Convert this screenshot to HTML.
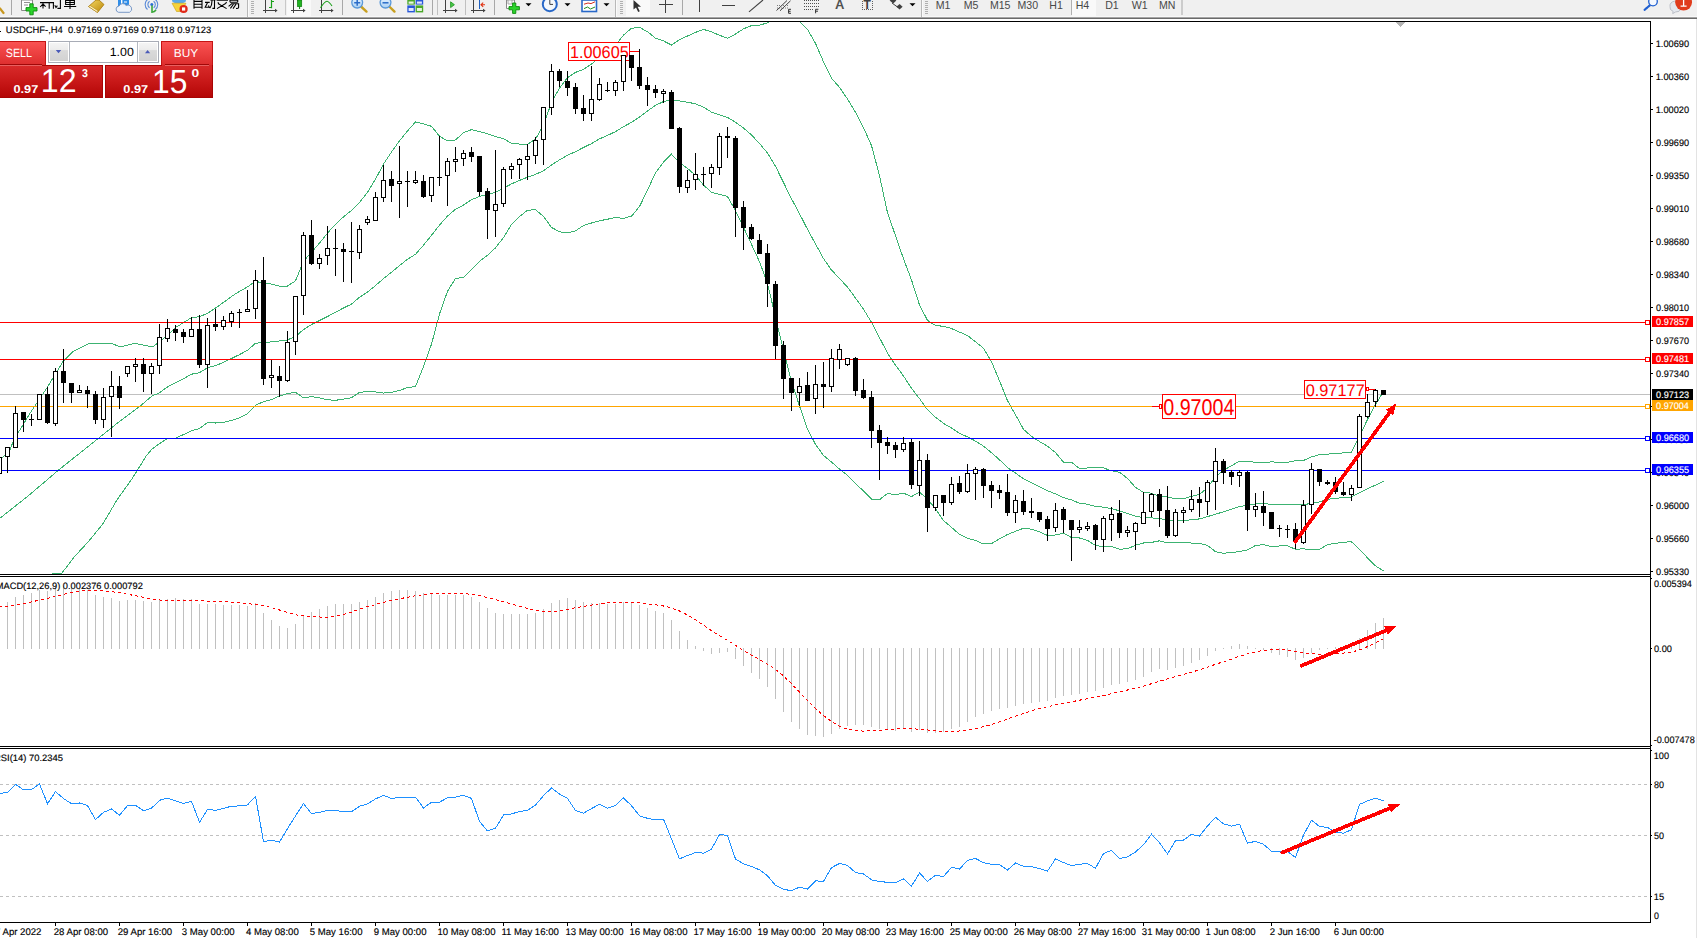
<!DOCTYPE html>
<html><head><meta charset="utf-8"><title>USDCHF H4</title>
<style>
html,body{margin:0;padding:0;background:#fff;overflow:hidden}
body{width:1697px;height:938px;position:relative;font-family:"Liberation Sans",sans-serif}
.t{position:absolute;white-space:nowrap;font-family:"Liberation Sans",sans-serif}
.a{position:absolute}
</style></head><body>
<svg width="1697" height="938" viewBox="0 0 1697 938" style="position:absolute;left:0;top:0" shape-rendering="crispEdges"><defs><clipPath id="cm"><rect x="0" y="22" width="1650" height="552"/></clipPath><clipPath id="cd"><rect x="0" y="577" width="1650" height="168"/></clipPath><clipPath id="cr"><rect x="0" y="749" width="1650" height="173"/></clipPath></defs>
<rect x="0" y="394" width="1650" height="1" fill="#c0c0c0"/>
<polyline points="-1.0,460.0 8.8,452.5 14.7,437.8 20.5,429.0 29.3,414.4 46.9,388.0 63.0,361.6 73.3,351.3 88.0,344.0 111.4,343.4 120.2,346.9 134.9,343.4 152.5,346.9 159.5,342.0 167.5,335.2 175.5,327.5 183.5,322.7 191.5,317.6 199.5,316.8 207.5,313.2 215.5,308.1 223.5,302.4 231.5,296.5 239.5,291.3 247.5,286.9 255.5,281.3 263.5,283.2 271.5,284.1 279.5,286.1 287.5,286.1 295.5,280.8 303.5,261.1 311.5,252.4 319.5,243.1 327.5,233.1 335.5,224.2 343.5,216.9 351.5,210.4 359.5,202.5 367.5,192.3 375.5,179.1 383.5,164.1 391.5,152.0 399.5,140.8 407.5,131.0 415.5,121.9 423.5,123.8 431.5,126.3 439.5,136.2 447.5,140.9 455.5,139.9 463.5,132.7 471.5,129.6 479.5,131.5 487.5,133.8 495.5,136.5 503.5,138.8 511.5,143.2 519.5,144.1 527.5,144.2 535.5,139.1 543.5,124.9 551.5,102.5 559.5,88.1 567.5,77.6 575.5,72.4 583.5,69.4 591.5,64.1 599.5,57.0 607.5,51.6 615.5,45.5 623.5,35.1 631.5,28.3 639.5,27.4 647.5,31.7 655.5,38.2 663.5,40.9 671.5,45.1 679.5,39.6 687.5,36.0 695.5,32.4 703.5,29.4 711.5,31.9 719.5,35.3 727.5,38.2 735.5,34.1 743.5,28.8 751.5,25.6 759.5,25.2 767.5,22.8 775.5,15.5 783.5,14.4 791.5,15.9 799.5,21.5 807.5,29.5 815.5,43.4 823.5,61.8 831.5,78.2 839.5,87.4 847.5,99.0 855.5,112.3 863.5,127.6 871.5,145.6 879.5,175.7 887.5,212.7 895.5,235.7 903.5,258.8 911.5,279.9 919.5,305.0 927.5,320.4 935.5,325.5 943.5,326.3 951.5,328.5 959.5,332.1 967.5,335.5 975.5,341.8 983.5,348.2 991.5,361.7 999.5,380.8 1007.5,400.7 1015.5,414.8 1023.5,429.3 1031.5,436.4 1039.5,441.5 1047.5,446.2 1055.5,452.6 1063.5,462.1 1071.5,462.3 1079.5,468.5 1087.5,468.0 1095.5,467.4 1103.5,467.9 1111.5,470.8 1119.5,472.3 1127.5,478.4 1135.5,487.4 1143.5,492.4 1151.5,493.2 1159.5,496.7 1167.5,496.8 1175.5,498.9 1183.5,498.7 1191.5,496.4 1199.5,494.4 1207.5,487.8 1215.5,476.6 1223.5,470.3 1231.5,465.8 1239.5,461.1 1247.5,461.2 1255.5,462.4 1263.5,462.4 1271.5,461.9 1279.5,462.3 1287.5,462.3 1295.5,460.8 1303.5,460.5 1311.5,456.9 1319.5,454.6 1327.5,454.1 1335.5,453.4 1343.5,452.9 1351.5,452.2 1359.5,435.8 1367.5,419.6 1375.5,404.5 1383.5,391.5" fill="none" stroke="#3cb371" stroke-width="1" clip-path="url(#cm)" shape-rendering="crispEdges"/>
<polyline points="-1.0,519.0 29.3,495.0 58.6,470.0 88.0,446.6 117.3,423.2 140.8,405.6 152.0,396.0 159.5,392.8 167.5,386.9 175.5,382.9 183.5,378.7 191.5,374.2 199.5,372.7 207.5,367.8 215.5,365.6 223.5,362.4 231.5,358.5 239.5,354.6 247.5,350.3 255.5,343.3 263.5,342.4 271.5,341.9 279.5,341.0 287.5,339.9 295.5,336.5 303.5,329.6 311.5,324.5 319.5,320.5 327.5,316.5 335.5,312.3 343.5,308.0 351.5,304.1 359.5,297.3 367.5,292.1 375.5,285.6 383.5,278.6 391.5,272.2 399.5,265.6 407.5,259.3 415.5,254.3 423.5,245.2 431.5,235.3 439.5,225.1 447.5,216.1 455.5,209.2 463.5,205.1 471.5,199.7 479.5,196.4 487.5,194.5 495.5,192.2 503.5,188.1 511.5,183.9 519.5,180.4 527.5,177.2 535.5,174.4 543.5,170.7 551.5,165.0 559.5,159.9 567.5,155.2 575.5,151.7 583.5,147.5 591.5,143.6 599.5,138.9 607.5,135.4 615.5,131.6 623.5,126.7 631.5,122.3 639.5,117.0 647.5,111.0 655.5,105.4 663.5,101.5 671.5,99.7 679.5,101.0 687.5,102.2 695.5,103.8 703.5,107.2 711.5,112.1 719.5,114.8 727.5,117.4 735.5,122.3 743.5,128.0 751.5,135.0 759.5,143.5 767.5,153.1 775.5,166.3 783.5,182.5 791.5,198.8 799.5,213.7 807.5,229.3 815.5,243.9 823.5,258.6 831.5,270.1 839.5,278.3 847.5,287.2 855.5,298.0 863.5,309.2 871.5,322.4 879.5,337.7 887.5,353.1 895.5,365.2 903.5,376.0 911.5,388.2 919.5,398.6 927.5,409.8 935.5,417.2 943.5,423.4 951.5,427.9 959.5,433.3 967.5,436.9 975.5,441.1 983.5,446.1 991.5,452.7 999.5,459.8 1007.5,467.6 1015.5,473.1 1023.5,478.7 1031.5,482.8 1039.5,486.7 1047.5,490.8 1055.5,493.8 1063.5,497.7 1071.5,499.9 1079.5,503.3 1087.5,504.2 1095.5,506.4 1103.5,507.2 1111.5,508.7 1119.5,510.8 1127.5,513.6 1135.5,516.3 1143.5,517.7 1151.5,517.8 1159.5,518.7 1167.5,519.9 1175.5,520.5 1183.5,520.4 1191.5,519.8 1199.5,518.9 1207.5,516.6 1215.5,514.2 1223.5,511.8 1231.5,509.1 1239.5,506.4 1247.5,505.6 1255.5,503.9 1263.5,503.6 1271.5,504.3 1279.5,504.1 1287.5,504.1 1295.5,505.0 1303.5,504.6 1311.5,503.4 1319.5,501.9 1327.5,499.3 1335.5,498.4 1343.5,497.6 1351.5,497.0 1359.5,492.7 1367.5,488.7 1375.5,485.1 1383.5,481.3" fill="none" stroke="#3cb371" stroke-width="1" clip-path="url(#cm)" shape-rendering="crispEdges"/>
<polyline points="47.0,574.5 62.0,573.0 73.3,558.0 88.0,542.0 102.6,524.3 117.3,499.4 132.0,478.9 146.6,455.4 152.0,449.0 159.5,443.6 167.5,438.6 175.5,438.2 183.5,434.6 191.5,430.7 199.5,428.6 207.5,422.4 215.5,423.0 223.5,422.4 231.5,420.4 239.5,417.8 247.5,413.7 255.5,405.3 263.5,401.6 271.5,399.7 279.5,395.9 287.5,393.6 295.5,392.2 303.5,398.0 311.5,396.5 319.5,397.9 327.5,399.8 335.5,400.3 343.5,399.1 351.5,397.8 359.5,392.2 367.5,391.8 375.5,392.0 383.5,393.1 391.5,392.3 399.5,390.5 407.5,387.5 415.5,386.6 423.5,366.6 431.5,344.2 439.5,314.0 447.5,291.2 455.5,278.5 463.5,277.4 471.5,269.7 479.5,261.3 487.5,255.2 495.5,247.9 503.5,237.5 511.5,224.5 519.5,216.6 527.5,210.2 535.5,209.7 543.5,216.5 551.5,227.4 559.5,231.8 567.5,232.9 575.5,230.9 583.5,225.5 591.5,223.0 599.5,220.8 607.5,219.2 615.5,217.6 623.5,218.3 631.5,216.2 639.5,206.5 647.5,190.3 655.5,172.7 663.5,162.2 671.5,154.2 679.5,162.4 687.5,168.4 695.5,175.3 703.5,185.1 711.5,192.3 719.5,194.3 727.5,196.5 735.5,210.6 743.5,227.3 751.5,244.4 759.5,261.7 767.5,283.5 775.5,317.1 783.5,350.6 791.5,381.6 799.5,406.0 807.5,429.1 815.5,444.3 823.5,455.5 831.5,462.0 839.5,469.1 847.5,475.3 855.5,483.8 863.5,490.8 871.5,499.1 879.5,499.7 887.5,493.4 895.5,494.7 903.5,493.1 911.5,496.6 919.5,492.1 927.5,499.2 935.5,508.9 943.5,520.5 951.5,527.4 959.5,534.4 967.5,538.3 975.5,540.5 983.5,543.9 991.5,543.6 999.5,538.9 1007.5,534.5 1015.5,531.3 1023.5,528.2 1031.5,529.2 1039.5,531.9 1047.5,535.5 1055.5,535.0 1063.5,533.2 1071.5,537.5 1079.5,538.0 1087.5,540.4 1095.5,545.5 1103.5,546.6 1111.5,546.6 1119.5,549.2 1127.5,548.8 1135.5,545.2 1143.5,543.0 1151.5,542.4 1159.5,540.8 1167.5,543.0 1175.5,542.1 1183.5,542.1 1191.5,543.1 1199.5,543.4 1207.5,545.4 1215.5,551.7 1223.5,553.3 1231.5,552.5 1239.5,551.6 1247.5,549.9 1255.5,545.4 1263.5,544.7 1271.5,546.7 1279.5,546.0 1287.5,545.8 1295.5,549.3 1303.5,548.8 1311.5,550.0 1319.5,549.3 1327.5,544.6 1335.5,543.3 1343.5,542.2 1351.5,541.8 1359.5,549.5 1367.5,557.8 1375.5,565.8 1383.5,571.0" fill="none" stroke="#3cb371" stroke-width="1" clip-path="url(#cm)" shape-rendering="crispEdges"/>
<rect x="0" y="322" width="1650" height="1" fill="#ff0000"/>
<rect x="1645.5" y="320.5" width="4" height="4" fill="#fff" stroke="#ff0000" stroke-width="1"/>
<rect x="0" y="359" width="1650" height="1" fill="#ff0000"/>
<rect x="1645.5" y="357.5" width="4" height="4" fill="#fff" stroke="#ff0000" stroke-width="1"/>
<rect x="0" y="406" width="1650" height="1" fill="#ffa500"/>
<rect x="1645.5" y="404.5" width="4" height="4" fill="#fff" stroke="#ffa500" stroke-width="1"/>
<rect x="0" y="438" width="1650" height="1" fill="#0000ff"/>
<rect x="1645.5" y="436.5" width="4" height="4" fill="#fff" stroke="#0000ff" stroke-width="1"/>
<rect x="0" y="470" width="1650" height="1" fill="#0000ff"/>
<rect x="1645.5" y="468.5" width="4" height="4" fill="#fff" stroke="#0000ff" stroke-width="1"/>
<rect x="568.5" y="42.5" width="61" height="18" fill="#fff" stroke="#ff0000" stroke-width="1" shape-rendering="crispEdges"/>
<rect x="630" y="51" width="9" height="1" fill="#f00"/>
<text x="569.98" y="57.93" font-family="Liberation Sans, sans-serif" font-size="17.18" textLength="58.77" lengthAdjust="spacingAndGlyphs" text-rendering="geometricPrecision" fill="#ff0000">1.00605</text>
<rect x="1304.5" y="380.5" width="61" height="18" fill="#fff" stroke="#ff0000" stroke-width="1" shape-rendering="crispEdges"/>
<rect x="1366.5" y="387.5" width="2" height="3" fill="#fff" stroke="#f00"/><rect x="1369" y="389" width="7" height="1" fill="#f00"/>
<text x="1305.63" y="395.83" font-family="Liberation Sans, sans-serif" font-size="16.90" textLength="59.11" lengthAdjust="spacingAndGlyphs" text-rendering="geometricPrecision" fill="#ff0000">0.97177</text>
<rect x="1162.5" y="394.5" width="73" height="24" fill="#fff" stroke="#ff0000" stroke-width="1" shape-rendering="crispEdges"/>
<rect x="1152" y="406" width="7" height="1" fill="#f00"/><rect x="1159.5" y="404.5" width="2" height="4" fill="#fff" stroke="#f00"/>
<text x="1163.21" y="414.87" font-family="Liberation Sans, sans-serif" font-size="22.82" textLength="71.28" lengthAdjust="spacingAndGlyphs" text-rendering="geometricPrecision" fill="#ff0000">0.97004</text>
<rect x="-1" y="455" width="1" height="21" fill="#000"/>
<rect x="-3" y="457" width="5" height="17" fill="#000"/>
<rect x="-2" y="458" width="3" height="15" fill="#fff"/>
<rect x="7" y="447" width="1" height="26" fill="#000"/>
<rect x="5" y="447" width="5" height="10" fill="#000"/>
<rect x="6" y="448" width="3" height="8" fill="#fff"/>
<rect x="15" y="406" width="1" height="42" fill="#000"/>
<rect x="13" y="413" width="5" height="35" fill="#000"/>
<rect x="14" y="414" width="3" height="33" fill="#fff"/>
<rect x="23" y="412" width="1" height="20" fill="#000"/>
<rect x="21" y="412" width="5" height="8" fill="#000"/>
<rect x="31" y="414" width="1" height="12" fill="#000"/>
<rect x="29" y="419" width="5" height="1" fill="#000"/>
<rect x="39" y="394" width="1" height="26" fill="#000"/>
<rect x="37" y="394" width="5" height="26" fill="#000"/>
<rect x="38" y="395" width="3" height="24" fill="#fff"/>
<rect x="47" y="387" width="1" height="37" fill="#000"/>
<rect x="45" y="394" width="5" height="29" fill="#000"/>
<rect x="55" y="368" width="1" height="58" fill="#000"/>
<rect x="53" y="371" width="5" height="53" fill="#000"/>
<rect x="54" y="372" width="3" height="51" fill="#fff"/>
<rect x="63" y="349" width="1" height="54" fill="#000"/>
<rect x="61" y="371" width="5" height="12" fill="#000"/>
<rect x="71" y="383" width="1" height="20" fill="#000"/>
<rect x="69" y="383" width="5" height="10" fill="#000"/>
<rect x="79" y="385" width="1" height="8" fill="#000"/>
<rect x="77" y="390" width="5" height="3" fill="#000"/>
<rect x="78" y="391" width="3" height="1" fill="#fff"/>
<rect x="87" y="386" width="1" height="22" fill="#000"/>
<rect x="85" y="390" width="5" height="4" fill="#000"/>
<rect x="95" y="391" width="1" height="33" fill="#000"/>
<rect x="93" y="394" width="5" height="26" fill="#000"/>
<rect x="103" y="388" width="1" height="40" fill="#000"/>
<rect x="101" y="397" width="5" height="23" fill="#000"/>
<rect x="102" y="398" width="3" height="21" fill="#fff"/>
<rect x="111" y="371" width="1" height="66" fill="#000"/>
<rect x="109" y="386" width="5" height="11" fill="#000"/>
<rect x="110" y="387" width="3" height="9" fill="#fff"/>
<rect x="119" y="376" width="1" height="33" fill="#000"/>
<rect x="117" y="386" width="5" height="12" fill="#000"/>
<rect x="127" y="366" width="1" height="11" fill="#000"/>
<rect x="125" y="366" width="5" height="8" fill="#000"/>
<rect x="126" y="367" width="3" height="6" fill="#fff"/>
<rect x="135" y="358" width="1" height="24" fill="#000"/>
<rect x="133" y="364" width="5" height="3" fill="#000"/>
<rect x="134" y="365" width="3" height="1" fill="#fff"/>
<rect x="143" y="358" width="1" height="34" fill="#000"/>
<rect x="141" y="364" width="5" height="10" fill="#000"/>
<rect x="151" y="363" width="1" height="31" fill="#000"/>
<rect x="149" y="366" width="5" height="8" fill="#000"/>
<rect x="150" y="367" width="3" height="6" fill="#fff"/>
<rect x="159" y="324" width="1" height="50" fill="#000"/>
<rect x="157" y="337" width="5" height="29" fill="#000"/>
<rect x="158" y="338" width="3" height="27" fill="#fff"/>
<rect x="167" y="319" width="1" height="23" fill="#000"/>
<rect x="165" y="328" width="5" height="11" fill="#000"/>
<rect x="166" y="329" width="3" height="9" fill="#fff"/>
<rect x="175" y="325" width="1" height="16" fill="#000"/>
<rect x="173" y="329" width="5" height="4" fill="#000"/>
<rect x="183" y="329" width="1" height="14" fill="#000"/>
<rect x="181" y="332" width="5" height="5" fill="#000"/>
<rect x="191" y="317" width="1" height="20" fill="#000"/>
<rect x="189" y="329" width="5" height="8" fill="#000"/>
<rect x="190" y="330" width="3" height="6" fill="#fff"/>
<rect x="199" y="315" width="1" height="53" fill="#000"/>
<rect x="197" y="329" width="5" height="36" fill="#000"/>
<rect x="207" y="318" width="1" height="70" fill="#000"/>
<rect x="205" y="325" width="5" height="40" fill="#000"/>
<rect x="206" y="326" width="3" height="38" fill="#fff"/>
<rect x="215" y="309" width="1" height="22" fill="#000"/>
<rect x="213" y="324" width="5" height="3" fill="#000"/>
<rect x="223" y="316" width="1" height="14" fill="#000"/>
<rect x="221" y="320" width="5" height="7" fill="#000"/>
<rect x="222" y="321" width="3" height="5" fill="#fff"/>
<rect x="231" y="311" width="1" height="16" fill="#000"/>
<rect x="229" y="313" width="5" height="9" fill="#000"/>
<rect x="230" y="314" width="3" height="7" fill="#fff"/>
<rect x="239" y="309" width="1" height="19" fill="#000"/>
<rect x="237" y="312" width="5" height="1" fill="#000"/>
<rect x="247" y="290" width="1" height="22" fill="#000"/>
<rect x="245" y="309" width="5" height="3" fill="#000"/>
<rect x="246" y="310" width="3" height="1" fill="#fff"/>
<rect x="255" y="270" width="1" height="49" fill="#000"/>
<rect x="253" y="280" width="5" height="29" fill="#000"/>
<rect x="254" y="281" width="3" height="27" fill="#fff"/>
<rect x="263" y="257" width="1" height="128" fill="#000"/>
<rect x="261" y="280" width="5" height="99" fill="#000"/>
<rect x="271" y="360" width="1" height="28" fill="#000"/>
<rect x="269" y="375" width="5" height="3" fill="#000"/>
<rect x="270" y="376" width="3" height="1" fill="#fff"/>
<rect x="279" y="366" width="1" height="31" fill="#000"/>
<rect x="277" y="376" width="5" height="5" fill="#000"/>
<rect x="287" y="331" width="1" height="51" fill="#000"/>
<rect x="285" y="342" width="5" height="39" fill="#000"/>
<rect x="286" y="343" width="3" height="37" fill="#fff"/>
<rect x="295" y="296" width="1" height="59" fill="#000"/>
<rect x="293" y="296" width="5" height="46" fill="#000"/>
<rect x="294" y="297" width="3" height="44" fill="#fff"/>
<rect x="303" y="232" width="1" height="83" fill="#000"/>
<rect x="301" y="235" width="5" height="61" fill="#000"/>
<rect x="302" y="236" width="3" height="59" fill="#fff"/>
<rect x="311" y="220" width="1" height="45" fill="#000"/>
<rect x="309" y="235" width="5" height="29" fill="#000"/>
<rect x="319" y="254" width="1" height="15" fill="#000"/>
<rect x="317" y="258" width="5" height="6" fill="#000"/>
<rect x="318" y="259" width="3" height="4" fill="#fff"/>
<rect x="327" y="226" width="1" height="39" fill="#000"/>
<rect x="325" y="248" width="5" height="8" fill="#000"/>
<rect x="326" y="249" width="3" height="6" fill="#fff"/>
<rect x="335" y="229" width="1" height="47" fill="#000"/>
<rect x="333" y="248" width="5" height="1" fill="#000"/>
<rect x="343" y="243" width="1" height="39" fill="#000"/>
<rect x="341" y="249" width="5" height="3" fill="#000"/>
<rect x="351" y="222" width="1" height="61" fill="#000"/>
<rect x="349" y="251" width="5" height="1" fill="#000"/>
<rect x="359" y="225" width="1" height="34" fill="#000"/>
<rect x="357" y="229" width="5" height="24" fill="#000"/>
<rect x="358" y="230" width="3" height="22" fill="#fff"/>
<rect x="367" y="216" width="1" height="9" fill="#000"/>
<rect x="365" y="219" width="5" height="4" fill="#000"/>
<rect x="366" y="220" width="3" height="2" fill="#fff"/>
<rect x="375" y="192" width="1" height="29" fill="#000"/>
<rect x="373" y="197" width="5" height="24" fill="#000"/>
<rect x="374" y="198" width="3" height="22" fill="#fff"/>
<rect x="383" y="165" width="1" height="37" fill="#000"/>
<rect x="381" y="180" width="5" height="18" fill="#000"/>
<rect x="382" y="181" width="3" height="16" fill="#fff"/>
<rect x="391" y="171" width="1" height="31" fill="#000"/>
<rect x="389" y="179" width="5" height="7" fill="#000"/>
<rect x="399" y="146" width="1" height="72" fill="#000"/>
<rect x="397" y="181" width="5" height="3" fill="#000"/>
<rect x="398" y="182" width="3" height="1" fill="#fff"/>
<rect x="407" y="171" width="1" height="36" fill="#000"/>
<rect x="405" y="181" width="5" height="1" fill="#000"/>
<rect x="415" y="171" width="1" height="13" fill="#000"/>
<rect x="413" y="180" width="5" height="3" fill="#000"/>
<rect x="414" y="181" width="3" height="1" fill="#fff"/>
<rect x="423" y="175" width="1" height="23" fill="#000"/>
<rect x="421" y="181" width="5" height="16" fill="#000"/>
<rect x="431" y="177" width="1" height="25" fill="#000"/>
<rect x="429" y="177" width="5" height="19" fill="#000"/>
<rect x="430" y="178" width="3" height="17" fill="#fff"/>
<rect x="439" y="136" width="1" height="50" fill="#000"/>
<rect x="437" y="177" width="5" height="1" fill="#000"/>
<rect x="447" y="158" width="1" height="48" fill="#000"/>
<rect x="445" y="161" width="5" height="15" fill="#000"/>
<rect x="446" y="162" width="3" height="13" fill="#fff"/>
<rect x="455" y="147" width="1" height="25" fill="#000"/>
<rect x="453" y="159" width="5" height="3" fill="#000"/>
<rect x="454" y="160" width="3" height="1" fill="#fff"/>
<rect x="463" y="150" width="1" height="16" fill="#000"/>
<rect x="461" y="153" width="5" height="6" fill="#000"/>
<rect x="462" y="154" width="3" height="4" fill="#fff"/>
<rect x="471" y="147" width="1" height="15" fill="#000"/>
<rect x="469" y="152" width="5" height="5" fill="#000"/>
<rect x="479" y="156" width="1" height="40" fill="#000"/>
<rect x="477" y="156" width="5" height="36" fill="#000"/>
<rect x="487" y="188" width="1" height="51" fill="#000"/>
<rect x="485" y="191" width="5" height="19" fill="#000"/>
<rect x="495" y="150" width="1" height="87" fill="#000"/>
<rect x="493" y="204" width="5" height="7" fill="#000"/>
<rect x="494" y="205" width="3" height="5" fill="#fff"/>
<rect x="503" y="167" width="1" height="40" fill="#000"/>
<rect x="501" y="169" width="5" height="35" fill="#000"/>
<rect x="502" y="170" width="3" height="33" fill="#fff"/>
<rect x="511" y="163" width="1" height="16" fill="#000"/>
<rect x="509" y="166" width="5" height="4" fill="#000"/>
<rect x="510" y="167" width="3" height="2" fill="#fff"/>
<rect x="519" y="158" width="1" height="21" fill="#000"/>
<rect x="517" y="159" width="5" height="6" fill="#000"/>
<rect x="518" y="160" width="3" height="4" fill="#fff"/>
<rect x="527" y="144" width="1" height="36" fill="#000"/>
<rect x="525" y="156" width="5" height="4" fill="#000"/>
<rect x="526" y="157" width="3" height="2" fill="#fff"/>
<rect x="535" y="137" width="1" height="27" fill="#000"/>
<rect x="533" y="140" width="5" height="16" fill="#000"/>
<rect x="534" y="141" width="3" height="14" fill="#fff"/>
<rect x="543" y="107" width="1" height="58" fill="#000"/>
<rect x="541" y="107" width="5" height="33" fill="#000"/>
<rect x="542" y="108" width="3" height="31" fill="#fff"/>
<rect x="551" y="64" width="1" height="51" fill="#000"/>
<rect x="549" y="71" width="5" height="37" fill="#000"/>
<rect x="550" y="72" width="3" height="35" fill="#fff"/>
<rect x="559" y="69" width="1" height="18" fill="#000"/>
<rect x="557" y="71" width="5" height="10" fill="#000"/>
<rect x="567" y="71" width="1" height="25" fill="#000"/>
<rect x="565" y="81" width="5" height="7" fill="#000"/>
<rect x="575" y="83" width="1" height="31" fill="#000"/>
<rect x="573" y="87" width="5" height="22" fill="#000"/>
<rect x="583" y="95" width="1" height="26" fill="#000"/>
<rect x="581" y="108" width="5" height="6" fill="#000"/>
<rect x="591" y="66" width="1" height="55" fill="#000"/>
<rect x="589" y="99" width="5" height="15" fill="#000"/>
<rect x="590" y="100" width="3" height="13" fill="#fff"/>
<rect x="599" y="78" width="1" height="23" fill="#000"/>
<rect x="597" y="84" width="5" height="16" fill="#000"/>
<rect x="598" y="85" width="3" height="14" fill="#fff"/>
<rect x="607" y="82" width="1" height="10" fill="#000"/>
<rect x="605" y="90" width="5" height="1" fill="#000"/>
<rect x="615" y="80" width="1" height="16" fill="#000"/>
<rect x="613" y="82" width="5" height="9" fill="#000"/>
<rect x="614" y="83" width="3" height="7" fill="#fff"/>
<rect x="623" y="55" width="1" height="36" fill="#000"/>
<rect x="621" y="55" width="5" height="27" fill="#000"/>
<rect x="622" y="56" width="3" height="25" fill="#fff"/>
<rect x="631" y="55" width="1" height="26" fill="#000"/>
<rect x="629" y="55" width="5" height="13" fill="#000"/>
<rect x="639" y="49" width="1" height="40" fill="#000"/>
<rect x="637" y="67" width="5" height="19" fill="#000"/>
<rect x="647" y="77" width="1" height="29" fill="#000"/>
<rect x="645" y="85" width="5" height="5" fill="#000"/>
<rect x="655" y="85" width="1" height="13" fill="#000"/>
<rect x="653" y="89" width="5" height="4" fill="#000"/>
<rect x="663" y="89" width="1" height="14" fill="#000"/>
<rect x="661" y="91" width="5" height="3" fill="#000"/>
<rect x="662" y="92" width="3" height="1" fill="#fff"/>
<rect x="671" y="90" width="1" height="39" fill="#000"/>
<rect x="669" y="92" width="5" height="37" fill="#000"/>
<rect x="679" y="127" width="1" height="66" fill="#000"/>
<rect x="677" y="128" width="5" height="59" fill="#000"/>
<rect x="687" y="170" width="1" height="23" fill="#000"/>
<rect x="685" y="180" width="5" height="8" fill="#000"/>
<rect x="686" y="181" width="3" height="6" fill="#fff"/>
<rect x="695" y="153" width="1" height="37" fill="#000"/>
<rect x="693" y="174" width="5" height="6" fill="#000"/>
<rect x="694" y="175" width="3" height="4" fill="#fff"/>
<rect x="703" y="167" width="1" height="19" fill="#000"/>
<rect x="701" y="174" width="5" height="1" fill="#000"/>
<rect x="711" y="164" width="1" height="24" fill="#000"/>
<rect x="709" y="167" width="5" height="7" fill="#000"/>
<rect x="710" y="168" width="3" height="5" fill="#fff"/>
<rect x="719" y="133" width="1" height="42" fill="#000"/>
<rect x="717" y="136" width="5" height="32" fill="#000"/>
<rect x="718" y="137" width="3" height="30" fill="#fff"/>
<rect x="727" y="127" width="1" height="31" fill="#000"/>
<rect x="725" y="136" width="5" height="2" fill="#000"/>
<rect x="735" y="136" width="1" height="101" fill="#000"/>
<rect x="733" y="138" width="5" height="70" fill="#000"/>
<rect x="743" y="201" width="1" height="49" fill="#000"/>
<rect x="741" y="207" width="5" height="21" fill="#000"/>
<rect x="751" y="224" width="1" height="16" fill="#000"/>
<rect x="749" y="227" width="5" height="12" fill="#000"/>
<rect x="759" y="234" width="1" height="20" fill="#000"/>
<rect x="757" y="240" width="5" height="14" fill="#000"/>
<rect x="767" y="244" width="1" height="63" fill="#000"/>
<rect x="765" y="253" width="5" height="31" fill="#000"/>
<rect x="775" y="281" width="1" height="78" fill="#000"/>
<rect x="773" y="284" width="5" height="62" fill="#000"/>
<rect x="783" y="341" width="1" height="58" fill="#000"/>
<rect x="781" y="345" width="5" height="34" fill="#000"/>
<rect x="791" y="378" width="1" height="33" fill="#000"/>
<rect x="789" y="378" width="5" height="15" fill="#000"/>
<rect x="799" y="378" width="1" height="28" fill="#000"/>
<rect x="797" y="386" width="5" height="7" fill="#000"/>
<rect x="798" y="387" width="3" height="5" fill="#fff"/>
<rect x="807" y="372" width="1" height="29" fill="#000"/>
<rect x="805" y="385" width="5" height="16" fill="#000"/>
<rect x="815" y="365" width="1" height="49" fill="#000"/>
<rect x="813" y="384" width="5" height="15" fill="#000"/>
<rect x="814" y="385" width="3" height="13" fill="#fff"/>
<rect x="823" y="362" width="1" height="46" fill="#000"/>
<rect x="821" y="384" width="5" height="3" fill="#000"/>
<rect x="831" y="349" width="1" height="43" fill="#000"/>
<rect x="829" y="358" width="5" height="29" fill="#000"/>
<rect x="830" y="359" width="3" height="27" fill="#fff"/>
<rect x="839" y="344" width="1" height="25" fill="#000"/>
<rect x="837" y="349" width="5" height="11" fill="#000"/>
<rect x="838" y="350" width="3" height="9" fill="#fff"/>
<rect x="847" y="358" width="1" height="8" fill="#000"/>
<rect x="845" y="358" width="5" height="7" fill="#000"/>
<rect x="846" y="359" width="3" height="5" fill="#fff"/>
<rect x="855" y="357" width="1" height="39" fill="#000"/>
<rect x="853" y="358" width="5" height="33" fill="#000"/>
<rect x="863" y="379" width="1" height="20" fill="#000"/>
<rect x="861" y="390" width="5" height="8" fill="#000"/>
<rect x="871" y="391" width="1" height="57" fill="#000"/>
<rect x="869" y="397" width="5" height="34" fill="#000"/>
<rect x="879" y="425" width="1" height="55" fill="#000"/>
<rect x="877" y="430" width="5" height="13" fill="#000"/>
<rect x="887" y="437" width="1" height="17" fill="#000"/>
<rect x="885" y="442" width="5" height="4" fill="#000"/>
<rect x="895" y="442" width="1" height="16" fill="#000"/>
<rect x="893" y="445" width="5" height="5" fill="#000"/>
<rect x="903" y="437" width="1" height="15" fill="#000"/>
<rect x="901" y="443" width="5" height="7" fill="#000"/>
<rect x="902" y="444" width="3" height="5" fill="#fff"/>
<rect x="911" y="439" width="1" height="50" fill="#000"/>
<rect x="909" y="442" width="5" height="43" fill="#000"/>
<rect x="919" y="441" width="1" height="55" fill="#000"/>
<rect x="917" y="460" width="5" height="26" fill="#000"/>
<rect x="918" y="461" width="3" height="24" fill="#fff"/>
<rect x="927" y="454" width="1" height="78" fill="#000"/>
<rect x="925" y="460" width="5" height="48" fill="#000"/>
<rect x="935" y="495" width="1" height="16" fill="#000"/>
<rect x="933" y="495" width="5" height="13" fill="#000"/>
<rect x="934" y="496" width="3" height="11" fill="#fff"/>
<rect x="943" y="495" width="1" height="21" fill="#000"/>
<rect x="941" y="495" width="5" height="8" fill="#000"/>
<rect x="951" y="477" width="1" height="28" fill="#000"/>
<rect x="949" y="484" width="5" height="19" fill="#000"/>
<rect x="950" y="485" width="3" height="17" fill="#fff"/>
<rect x="959" y="476" width="1" height="18" fill="#000"/>
<rect x="957" y="483" width="5" height="9" fill="#000"/>
<rect x="967" y="464" width="1" height="29" fill="#000"/>
<rect x="965" y="473" width="5" height="19" fill="#000"/>
<rect x="966" y="474" width="3" height="17" fill="#fff"/>
<rect x="975" y="467" width="1" height="33" fill="#000"/>
<rect x="973" y="469" width="5" height="5" fill="#000"/>
<rect x="974" y="470" width="3" height="3" fill="#fff"/>
<rect x="983" y="468" width="1" height="30" fill="#000"/>
<rect x="981" y="469" width="5" height="17" fill="#000"/>
<rect x="991" y="481" width="1" height="27" fill="#000"/>
<rect x="989" y="485" width="5" height="6" fill="#000"/>
<rect x="999" y="485" width="1" height="14" fill="#000"/>
<rect x="997" y="490" width="5" height="3" fill="#000"/>
<rect x="1007" y="474" width="1" height="42" fill="#000"/>
<rect x="1005" y="492" width="5" height="21" fill="#000"/>
<rect x="1015" y="495" width="1" height="28" fill="#000"/>
<rect x="1013" y="500" width="5" height="13" fill="#000"/>
<rect x="1014" y="501" width="3" height="11" fill="#fff"/>
<rect x="1023" y="490" width="1" height="25" fill="#000"/>
<rect x="1021" y="501" width="5" height="11" fill="#000"/>
<rect x="1031" y="498" width="1" height="20" fill="#000"/>
<rect x="1029" y="511" width="5" height="2" fill="#000"/>
<rect x="1039" y="512" width="1" height="10" fill="#000"/>
<rect x="1037" y="512" width="5" height="8" fill="#000"/>
<rect x="1047" y="516" width="1" height="25" fill="#000"/>
<rect x="1045" y="519" width="5" height="10" fill="#000"/>
<rect x="1055" y="503" width="1" height="29" fill="#000"/>
<rect x="1053" y="510" width="5" height="18" fill="#000"/>
<rect x="1054" y="511" width="3" height="16" fill="#fff"/>
<rect x="1063" y="507" width="1" height="26" fill="#000"/>
<rect x="1061" y="509" width="5" height="11" fill="#000"/>
<rect x="1071" y="520" width="1" height="41" fill="#000"/>
<rect x="1069" y="520" width="5" height="10" fill="#000"/>
<rect x="1079" y="520" width="1" height="13" fill="#000"/>
<rect x="1077" y="527" width="5" height="3" fill="#000"/>
<rect x="1078" y="528" width="3" height="1" fill="#fff"/>
<rect x="1087" y="522" width="1" height="9" fill="#000"/>
<rect x="1085" y="526" width="5" height="3" fill="#000"/>
<rect x="1086" y="527" width="3" height="1" fill="#fff"/>
<rect x="1095" y="524" width="1" height="26" fill="#000"/>
<rect x="1093" y="525" width="5" height="15" fill="#000"/>
<rect x="1103" y="516" width="1" height="36" fill="#000"/>
<rect x="1101" y="518" width="5" height="22" fill="#000"/>
<rect x="1102" y="519" width="3" height="20" fill="#fff"/>
<rect x="1111" y="507" width="1" height="34" fill="#000"/>
<rect x="1109" y="514" width="5" height="6" fill="#000"/>
<rect x="1110" y="515" width="3" height="4" fill="#fff"/>
<rect x="1119" y="500" width="1" height="38" fill="#000"/>
<rect x="1117" y="513" width="5" height="20" fill="#000"/>
<rect x="1127" y="526" width="1" height="11" fill="#000"/>
<rect x="1125" y="530" width="5" height="3" fill="#000"/>
<rect x="1126" y="531" width="3" height="1" fill="#fff"/>
<rect x="1135" y="522" width="1" height="28" fill="#000"/>
<rect x="1133" y="523" width="5" height="9" fill="#000"/>
<rect x="1134" y="524" width="3" height="7" fill="#fff"/>
<rect x="1143" y="492" width="1" height="32" fill="#000"/>
<rect x="1141" y="512" width="5" height="12" fill="#000"/>
<rect x="1142" y="513" width="3" height="10" fill="#fff"/>
<rect x="1151" y="493" width="1" height="24" fill="#000"/>
<rect x="1149" y="494" width="5" height="18" fill="#000"/>
<rect x="1150" y="495" width="3" height="16" fill="#fff"/>
<rect x="1159" y="489" width="1" height="38" fill="#000"/>
<rect x="1157" y="494" width="5" height="17" fill="#000"/>
<rect x="1167" y="486" width="1" height="52" fill="#000"/>
<rect x="1165" y="510" width="5" height="26" fill="#000"/>
<rect x="1175" y="509" width="1" height="28" fill="#000"/>
<rect x="1173" y="512" width="5" height="24" fill="#000"/>
<rect x="1174" y="513" width="3" height="22" fill="#fff"/>
<rect x="1183" y="507" width="1" height="16" fill="#000"/>
<rect x="1181" y="510" width="5" height="3" fill="#000"/>
<rect x="1182" y="511" width="3" height="1" fill="#fff"/>
<rect x="1191" y="490" width="1" height="22" fill="#000"/>
<rect x="1189" y="499" width="5" height="11" fill="#000"/>
<rect x="1190" y="500" width="3" height="9" fill="#fff"/>
<rect x="1199" y="487" width="1" height="30" fill="#000"/>
<rect x="1197" y="499" width="5" height="4" fill="#000"/>
<rect x="1207" y="480" width="1" height="35" fill="#000"/>
<rect x="1205" y="482" width="5" height="20" fill="#000"/>
<rect x="1206" y="483" width="3" height="18" fill="#fff"/>
<rect x="1215" y="448" width="1" height="62" fill="#000"/>
<rect x="1213" y="461" width="5" height="21" fill="#000"/>
<rect x="1214" y="462" width="3" height="19" fill="#fff"/>
<rect x="1223" y="459" width="1" height="25" fill="#000"/>
<rect x="1221" y="461" width="5" height="12" fill="#000"/>
<rect x="1231" y="470" width="1" height="15" fill="#000"/>
<rect x="1229" y="472" width="5" height="5" fill="#000"/>
<rect x="1239" y="470" width="1" height="17" fill="#000"/>
<rect x="1237" y="472" width="5" height="4" fill="#000"/>
<rect x="1238" y="473" width="3" height="2" fill="#fff"/>
<rect x="1247" y="471" width="1" height="60" fill="#000"/>
<rect x="1245" y="472" width="5" height="38" fill="#000"/>
<rect x="1255" y="493" width="1" height="24" fill="#000"/>
<rect x="1253" y="506" width="5" height="4" fill="#000"/>
<rect x="1254" y="507" width="3" height="2" fill="#fff"/>
<rect x="1263" y="491" width="1" height="35" fill="#000"/>
<rect x="1261" y="506" width="5" height="7" fill="#000"/>
<rect x="1271" y="512" width="1" height="17" fill="#000"/>
<rect x="1269" y="512" width="5" height="17" fill="#000"/>
<rect x="1279" y="525" width="1" height="12" fill="#000"/>
<rect x="1277" y="528" width="5" height="1" fill="#000"/>
<rect x="1287" y="525" width="1" height="13" fill="#000"/>
<rect x="1285" y="529" width="5" height="1" fill="#000"/>
<rect x="1295" y="523" width="1" height="26" fill="#000"/>
<rect x="1293" y="529" width="5" height="13" fill="#000"/>
<rect x="1303" y="500" width="1" height="44" fill="#000"/>
<rect x="1301" y="505" width="5" height="38" fill="#000"/>
<rect x="1302" y="506" width="3" height="36" fill="#fff"/>
<rect x="1311" y="463" width="1" height="51" fill="#000"/>
<rect x="1309" y="469" width="5" height="36" fill="#000"/>
<rect x="1310" y="470" width="3" height="34" fill="#fff"/>
<rect x="1319" y="469" width="1" height="17" fill="#000"/>
<rect x="1317" y="469" width="5" height="13" fill="#000"/>
<rect x="1327" y="480" width="1" height="5" fill="#000"/>
<rect x="1325" y="482" width="5" height="2" fill="#000"/>
<rect x="1335" y="477" width="1" height="17" fill="#000"/>
<rect x="1333" y="482" width="5" height="10" fill="#000"/>
<rect x="1343" y="482" width="1" height="14" fill="#000"/>
<rect x="1341" y="492" width="5" height="3" fill="#000"/>
<rect x="1351" y="485" width="1" height="16" fill="#000"/>
<rect x="1349" y="488" width="5" height="7" fill="#000"/>
<rect x="1350" y="489" width="3" height="5" fill="#fff"/>
<rect x="1359" y="414" width="1" height="74" fill="#000"/>
<rect x="1357" y="416" width="5" height="72" fill="#000"/>
<rect x="1358" y="417" width="3" height="70" fill="#fff"/>
<rect x="1367" y="394" width="1" height="24" fill="#000"/>
<rect x="1365" y="402" width="5" height="15" fill="#000"/>
<rect x="1366" y="403" width="3" height="13" fill="#fff"/>
<rect x="1375" y="389" width="1" height="18" fill="#000"/>
<rect x="1373" y="390" width="5" height="12" fill="#000"/>
<rect x="1374" y="391" width="3" height="10" fill="#fff"/>
<rect x="1383" y="390" width="1" height="5" fill="#000"/>
<rect x="1381" y="390" width="5" height="5" fill="#000"/>
<rect x="7" y="602" width="1" height="47" fill="#c0c0c0"/>
<rect x="15" y="597" width="1" height="52" fill="#c0c0c0"/>
<rect x="23" y="595" width="1" height="54" fill="#c0c0c0"/>
<rect x="31" y="593" width="1" height="56" fill="#c0c0c0"/>
<rect x="39" y="590" width="1" height="59" fill="#c0c0c0"/>
<rect x="47" y="591" width="1" height="58" fill="#c0c0c0"/>
<rect x="55" y="587" width="1" height="62" fill="#c0c0c0"/>
<rect x="63" y="586" width="1" height="63" fill="#c0c0c0"/>
<rect x="71" y="587" width="1" height="62" fill="#c0c0c0"/>
<rect x="79" y="588" width="1" height="61" fill="#c0c0c0"/>
<rect x="87" y="590" width="1" height="59" fill="#c0c0c0"/>
<rect x="95" y="595" width="1" height="54" fill="#c0c0c0"/>
<rect x="103" y="597" width="1" height="52" fill="#c0c0c0"/>
<rect x="111" y="598" width="1" height="51" fill="#c0c0c0"/>
<rect x="119" y="601" width="1" height="48" fill="#c0c0c0"/>
<rect x="127" y="600" width="1" height="49" fill="#c0c0c0"/>
<rect x="135" y="600" width="1" height="49" fill="#c0c0c0"/>
<rect x="143" y="601" width="1" height="48" fill="#c0c0c0"/>
<rect x="151" y="602" width="1" height="47" fill="#c0c0c0"/>
<rect x="159" y="600" width="1" height="49" fill="#c0c0c0"/>
<rect x="167" y="599" width="1" height="50" fill="#c0c0c0"/>
<rect x="175" y="598" width="1" height="51" fill="#c0c0c0"/>
<rect x="183" y="599" width="1" height="50" fill="#c0c0c0"/>
<rect x="191" y="599" width="1" height="50" fill="#c0c0c0"/>
<rect x="199" y="604" width="1" height="45" fill="#c0c0c0"/>
<rect x="207" y="604" width="1" height="45" fill="#c0c0c0"/>
<rect x="215" y="604" width="1" height="45" fill="#c0c0c0"/>
<rect x="223" y="605" width="1" height="44" fill="#c0c0c0"/>
<rect x="231" y="605" width="1" height="44" fill="#c0c0c0"/>
<rect x="239" y="605" width="1" height="44" fill="#c0c0c0"/>
<rect x="247" y="606" width="1" height="43" fill="#c0c0c0"/>
<rect x="255" y="603" width="1" height="46" fill="#c0c0c0"/>
<rect x="263" y="613" width="1" height="36" fill="#c0c0c0"/>
<rect x="271" y="620" width="1" height="29" fill="#c0c0c0"/>
<rect x="279" y="626" width="1" height="23" fill="#c0c0c0"/>
<rect x="287" y="628" width="1" height="21" fill="#c0c0c0"/>
<rect x="295" y="624" width="1" height="25" fill="#c0c0c0"/>
<rect x="303" y="615" width="1" height="34" fill="#c0c0c0"/>
<rect x="311" y="612" width="1" height="37" fill="#c0c0c0"/>
<rect x="319" y="609" width="1" height="40" fill="#c0c0c0"/>
<rect x="327" y="606" width="1" height="43" fill="#c0c0c0"/>
<rect x="335" y="604" width="1" height="45" fill="#c0c0c0"/>
<rect x="343" y="604" width="1" height="45" fill="#c0c0c0"/>
<rect x="351" y="604" width="1" height="45" fill="#c0c0c0"/>
<rect x="359" y="602" width="1" height="47" fill="#c0c0c0"/>
<rect x="367" y="600" width="1" height="49" fill="#c0c0c0"/>
<rect x="375" y="597" width="1" height="52" fill="#c0c0c0"/>
<rect x="383" y="593" width="1" height="56" fill="#c0c0c0"/>
<rect x="391" y="591" width="1" height="58" fill="#c0c0c0"/>
<rect x="399" y="590" width="1" height="59" fill="#c0c0c0"/>
<rect x="407" y="590" width="1" height="59" fill="#c0c0c0"/>
<rect x="415" y="591" width="1" height="58" fill="#c0c0c0"/>
<rect x="423" y="593" width="1" height="56" fill="#c0c0c0"/>
<rect x="431" y="594" width="1" height="55" fill="#c0c0c0"/>
<rect x="439" y="595" width="1" height="54" fill="#c0c0c0"/>
<rect x="447" y="595" width="1" height="54" fill="#c0c0c0"/>
<rect x="455" y="595" width="1" height="54" fill="#c0c0c0"/>
<rect x="463" y="595" width="1" height="54" fill="#c0c0c0"/>
<rect x="471" y="597" width="1" height="52" fill="#c0c0c0"/>
<rect x="479" y="602" width="1" height="47" fill="#c0c0c0"/>
<rect x="487" y="608" width="1" height="41" fill="#c0c0c0"/>
<rect x="495" y="613" width="1" height="36" fill="#c0c0c0"/>
<rect x="503" y="614" width="1" height="35" fill="#c0c0c0"/>
<rect x="511" y="614" width="1" height="35" fill="#c0c0c0"/>
<rect x="519" y="614" width="1" height="35" fill="#c0c0c0"/>
<rect x="527" y="614" width="1" height="35" fill="#c0c0c0"/>
<rect x="535" y="613" width="1" height="36" fill="#c0c0c0"/>
<rect x="543" y="609" width="1" height="40" fill="#c0c0c0"/>
<rect x="551" y="603" width="1" height="46" fill="#c0c0c0"/>
<rect x="559" y="600" width="1" height="49" fill="#c0c0c0"/>
<rect x="567" y="598" width="1" height="51" fill="#c0c0c0"/>
<rect x="575" y="600" width="1" height="49" fill="#c0c0c0"/>
<rect x="583" y="602" width="1" height="47" fill="#c0c0c0"/>
<rect x="591" y="603" width="1" height="46" fill="#c0c0c0"/>
<rect x="599" y="603" width="1" height="46" fill="#c0c0c0"/>
<rect x="607" y="604" width="1" height="45" fill="#c0c0c0"/>
<rect x="615" y="604" width="1" height="45" fill="#c0c0c0"/>
<rect x="623" y="602" width="1" height="47" fill="#c0c0c0"/>
<rect x="631" y="602" width="1" height="47" fill="#c0c0c0"/>
<rect x="639" y="605" width="1" height="44" fill="#c0c0c0"/>
<rect x="647" y="608" width="1" height="41" fill="#c0c0c0"/>
<rect x="655" y="611" width="1" height="38" fill="#c0c0c0"/>
<rect x="663" y="613" width="1" height="36" fill="#c0c0c0"/>
<rect x="671" y="620" width="1" height="29" fill="#c0c0c0"/>
<rect x="679" y="631" width="1" height="18" fill="#c0c0c0"/>
<rect x="687" y="640" width="1" height="9" fill="#c0c0c0"/>
<rect x="695" y="646" width="1" height="3" fill="#c0c0c0"/>
<rect x="703" y="648" width="1" height="3" fill="#c0c0c0"/>
<rect x="711" y="648" width="1" height="6" fill="#c0c0c0"/>
<rect x="719" y="648" width="1" height="5" fill="#c0c0c0"/>
<rect x="727" y="648" width="1" height="4" fill="#c0c0c0"/>
<rect x="735" y="648" width="1" height="11" fill="#c0c0c0"/>
<rect x="743" y="648" width="1" height="18" fill="#c0c0c0"/>
<rect x="751" y="648" width="1" height="25" fill="#c0c0c0"/>
<rect x="759" y="648" width="1" height="31" fill="#c0c0c0"/>
<rect x="767" y="648" width="1" height="39" fill="#c0c0c0"/>
<rect x="775" y="648" width="1" height="51" fill="#c0c0c0"/>
<rect x="783" y="648" width="1" height="64" fill="#c0c0c0"/>
<rect x="791" y="648" width="1" height="74" fill="#c0c0c0"/>
<rect x="799" y="648" width="1" height="81" fill="#c0c0c0"/>
<rect x="807" y="648" width="1" height="87" fill="#c0c0c0"/>
<rect x="815" y="648" width="1" height="88" fill="#c0c0c0"/>
<rect x="823" y="648" width="1" height="89" fill="#c0c0c0"/>
<rect x="831" y="648" width="1" height="86" fill="#c0c0c0"/>
<rect x="839" y="648" width="1" height="81" fill="#c0c0c0"/>
<rect x="847" y="648" width="1" height="78" fill="#c0c0c0"/>
<rect x="855" y="648" width="1" height="77" fill="#c0c0c0"/>
<rect x="863" y="648" width="1" height="77" fill="#c0c0c0"/>
<rect x="871" y="648" width="1" height="79" fill="#c0c0c0"/>
<rect x="879" y="648" width="1" height="81" fill="#c0c0c0"/>
<rect x="887" y="648" width="1" height="82" fill="#c0c0c0"/>
<rect x="895" y="648" width="1" height="83" fill="#c0c0c0"/>
<rect x="903" y="648" width="1" height="81" fill="#c0c0c0"/>
<rect x="911" y="648" width="1" height="84" fill="#c0c0c0"/>
<rect x="919" y="648" width="1" height="82" fill="#c0c0c0"/>
<rect x="927" y="648" width="1" height="85" fill="#c0c0c0"/>
<rect x="935" y="648" width="1" height="85" fill="#c0c0c0"/>
<rect x="943" y="648" width="1" height="84" fill="#c0c0c0"/>
<rect x="951" y="648" width="1" height="81" fill="#c0c0c0"/>
<rect x="959" y="648" width="1" height="79" fill="#c0c0c0"/>
<rect x="967" y="648" width="1" height="74" fill="#c0c0c0"/>
<rect x="975" y="648" width="1" height="69" fill="#c0c0c0"/>
<rect x="983" y="648" width="1" height="66" fill="#c0c0c0"/>
<rect x="991" y="648" width="1" height="63" fill="#c0c0c0"/>
<rect x="999" y="648" width="1" height="61" fill="#c0c0c0"/>
<rect x="1007" y="648" width="1" height="60" fill="#c0c0c0"/>
<rect x="1015" y="648" width="1" height="58" fill="#c0c0c0"/>
<rect x="1023" y="648" width="1" height="56" fill="#c0c0c0"/>
<rect x="1031" y="648" width="1" height="55" fill="#c0c0c0"/>
<rect x="1039" y="648" width="1" height="54" fill="#c0c0c0"/>
<rect x="1047" y="648" width="1" height="53" fill="#c0c0c0"/>
<rect x="1055" y="648" width="1" height="50" fill="#c0c0c0"/>
<rect x="1063" y="648" width="1" height="48" fill="#c0c0c0"/>
<rect x="1071" y="648" width="1" height="47" fill="#c0c0c0"/>
<rect x="1079" y="648" width="1" height="46" fill="#c0c0c0"/>
<rect x="1087" y="648" width="1" height="44" fill="#c0c0c0"/>
<rect x="1095" y="648" width="1" height="43" fill="#c0c0c0"/>
<rect x="1103" y="648" width="1" height="40" fill="#c0c0c0"/>
<rect x="1111" y="648" width="1" height="37" fill="#c0c0c0"/>
<rect x="1119" y="648" width="1" height="36" fill="#c0c0c0"/>
<rect x="1127" y="648" width="1" height="34" fill="#c0c0c0"/>
<rect x="1135" y="648" width="1" height="32" fill="#c0c0c0"/>
<rect x="1143" y="648" width="1" height="29" fill="#c0c0c0"/>
<rect x="1151" y="648" width="1" height="24" fill="#c0c0c0"/>
<rect x="1159" y="648" width="1" height="21" fill="#c0c0c0"/>
<rect x="1167" y="648" width="1" height="22" fill="#c0c0c0"/>
<rect x="1175" y="648" width="1" height="20" fill="#c0c0c0"/>
<rect x="1183" y="648" width="1" height="18" fill="#c0c0c0"/>
<rect x="1191" y="648" width="1" height="15" fill="#c0c0c0"/>
<rect x="1199" y="648" width="1" height="12" fill="#c0c0c0"/>
<rect x="1207" y="648" width="1" height="8" fill="#c0c0c0"/>
<rect x="1215" y="648" width="1" height="3" fill="#c0c0c0"/>
<rect x="1223" y="648" width="1" height="1" fill="#c0c0c0"/>
<rect x="1231" y="646" width="1" height="3" fill="#c0c0c0"/>
<rect x="1239" y="644" width="1" height="5" fill="#c0c0c0"/>
<rect x="1247" y="646" width="1" height="3" fill="#c0c0c0"/>
<rect x="1255" y="648" width="1" height="1" fill="#c0c0c0"/>
<rect x="1263" y="648" width="1" height="2" fill="#c0c0c0"/>
<rect x="1271" y="648" width="1" height="5" fill="#c0c0c0"/>
<rect x="1279" y="648" width="1" height="7" fill="#c0c0c0"/>
<rect x="1287" y="648" width="1" height="9" fill="#c0c0c0"/>
<rect x="1295" y="648" width="1" height="12" fill="#c0c0c0"/>
<rect x="1303" y="648" width="1" height="10" fill="#c0c0c0"/>
<rect x="1311" y="648" width="1" height="5" fill="#c0c0c0"/>
<rect x="1319" y="648" width="1" height="2" fill="#c0c0c0"/>
<rect x="1327" y="648" width="1" height="1" fill="#c0c0c0"/>
<rect x="1335" y="647" width="1" height="2" fill="#c0c0c0"/>
<rect x="1343" y="647" width="1" height="2" fill="#c0c0c0"/>
<rect x="1351" y="646" width="1" height="3" fill="#c0c0c0"/>
<rect x="1359" y="638" width="1" height="11" fill="#c0c0c0"/>
<rect x="1367" y="630" width="1" height="19" fill="#c0c0c0"/>
<rect x="1375" y="623" width="1" height="26" fill="#c0c0c0"/>
<rect x="1383" y="618" width="1" height="31" fill="#c0c0c0"/>
<polyline points="-0.5,606.8 7.5,606.1 15.5,604.9 23.5,603.5 31.5,601.9 39.5,600.1 47.5,598.4 55.5,596.4 63.5,594.4 71.5,592.5 79.5,590.9 87.5,590.2 95.5,590.3 103.5,590.8 111.5,591.7 119.5,592.8 127.5,594.2 135.5,595.8 143.5,597.3 151.5,598.9 159.5,600.0 167.5,600.4 175.5,600.5 183.5,600.5 191.5,600.3 199.5,600.7 207.5,601.1 215.5,601.5 223.5,601.7 231.5,602.2 239.5,602.9 247.5,603.8 255.5,604.3 263.5,605.7 271.5,607.5 279.5,610.0 287.5,612.6 295.5,614.8 303.5,616.0 311.5,616.7 319.5,617.0 327.5,617.3 335.5,616.4 343.5,614.6 351.5,612.1 359.5,609.2 367.5,606.6 375.5,604.5 383.5,602.4 391.5,600.5 399.5,598.8 407.5,597.2 415.5,595.8 423.5,594.6 431.5,593.7 439.5,593.2 447.5,593.0 455.5,593.2 463.5,593.6 471.5,594.3 479.5,595.6 487.5,597.5 495.5,599.7 503.5,601.9 511.5,604.0 519.5,606.2 527.5,608.3 535.5,610.3 543.5,611.7 551.5,611.9 559.5,610.9 567.5,609.3 575.5,607.8 583.5,606.4 591.5,605.1 599.5,603.8 607.5,602.7 615.5,602.1 623.5,602.0 631.5,602.3 639.5,603.0 647.5,603.9 655.5,604.8 663.5,606.0 671.5,607.9 679.5,611.0 687.5,615.0 695.5,619.8 703.5,625.2 711.5,630.7 719.5,635.7 727.5,640.3 735.5,645.3 743.5,650.4 751.5,655.1 759.5,659.5 767.5,664.1 775.5,669.5 783.5,675.9 791.5,683.7 799.5,692.2 807.5,700.6 815.5,708.4 823.5,715.6 831.5,721.6 839.5,726.3 847.5,729.2 855.5,730.7 863.5,731.1 871.5,730.9 879.5,730.3 887.5,729.6 895.5,728.9 903.5,728.4 911.5,728.7 919.5,729.2 927.5,730.0 935.5,730.9 943.5,731.4 951.5,731.4 959.5,731.0 967.5,730.0 975.5,728.6 983.5,726.6 991.5,724.5 999.5,721.8 1007.5,719.1 1015.5,716.1 1023.5,713.4 1031.5,710.7 1039.5,708.5 1047.5,706.7 1055.5,705.0 1063.5,703.3 1071.5,701.8 1079.5,700.2 1087.5,698.7 1095.5,697.2 1103.5,695.6 1111.5,693.7 1119.5,691.8 1127.5,690.0 1135.5,688.2 1143.5,686.2 1151.5,683.7 1159.5,681.3 1167.5,678.9 1175.5,676.6 1183.5,674.5 1191.5,672.2 1199.5,669.8 1207.5,667.2 1215.5,664.3 1223.5,661.7 1231.5,659.1 1239.5,656.2 1247.5,653.8 1255.5,651.8 1263.5,650.4 1271.5,649.6 1279.5,649.5 1287.5,650.2 1295.5,651.5 1303.5,652.8 1311.5,653.8 1319.5,654.2 1327.5,654.1 1335.5,653.8 1343.5,653.1 1351.5,652.1 1359.5,649.9 1367.5,646.6 1375.5,642.7 1383.5,638.8" fill="none" stroke="#ff0000" stroke-width="1" stroke-dasharray="3,3" clip-path="url(#cd)" shape-rendering="crispEdges"/>
<line x1="0" y1="784.5" x2="1650" y2="784.5" stroke="#c0c0c0" stroke-width="1" stroke-dasharray="3,3" shape-rendering="crispEdges"/>
<line x1="0" y1="835.5" x2="1650" y2="835.5" stroke="#c0c0c0" stroke-width="1" stroke-dasharray="3,3" shape-rendering="crispEdges"/>
<line x1="0" y1="896.5" x2="1650" y2="896.5" stroke="#c0c0c0" stroke-width="1" stroke-dasharray="3,3" shape-rendering="crispEdges"/>
<polyline points="-1.5,793.6 7.5,792.3 15.5,784.3 23.5,789.9 31.5,789.6 39.5,784.0 47.5,803.7 55.5,791.6 63.5,798.5 71.5,803.7 79.5,803.0 87.5,805.6 95.5,819.6 103.5,812.3 111.5,809.0 119.5,815.2 127.5,805.7 135.5,805.3 143.5,810.7 151.5,808.2 159.5,800.3 167.5,798.1 175.5,800.7 183.5,803.5 191.5,801.3 199.5,822.3 207.5,809.5 215.5,810.3 223.5,808.4 231.5,806.2 239.5,805.9 247.5,804.9 255.5,796.3 263.5,841.5 271.5,840.4 279.5,842.0 287.5,828.6 295.5,816.0 303.5,803.6 311.5,813.6 319.5,812.4 327.5,810.5 335.5,810.4 343.5,811.8 351.5,811.8 359.5,806.2 367.5,803.9 375.5,798.9 383.5,795.5 391.5,798.4 399.5,797.4 407.5,797.8 415.5,797.3 423.5,808.0 431.5,802.2 439.5,802.2 447.5,797.7 455.5,797.1 463.5,795.3 471.5,798.4 479.5,821.5 487.5,830.9 495.5,828.2 503.5,815.0 511.5,813.9 519.5,811.5 527.5,810.4 535.5,805.0 543.5,795.6 551.5,788.0 559.5,794.0 567.5,798.4 575.5,810.4 583.5,813.1 591.5,808.6 599.5,804.2 607.5,808.1 615.5,805.4 623.5,797.9 631.5,805.7 639.5,815.8 647.5,818.3 655.5,819.8 663.5,819.2 671.5,838.8 679.5,858.9 687.5,855.5 695.5,852.6 703.5,853.1 711.5,849.1 719.5,834.5 727.5,835.5 735.5,859.0 743.5,863.8 751.5,866.5 759.5,869.8 767.5,875.8 775.5,885.4 783.5,889.2 791.5,890.8 799.5,887.1 807.5,889.0 815.5,880.9 823.5,881.3 831.5,867.6 839.5,863.5 847.5,865.4 855.5,872.5 863.5,873.9 871.5,879.8 879.5,881.7 887.5,882.2 895.5,882.9 903.5,878.9 911.5,886.1 919.5,873.1 927.5,881.3 935.5,875.3 943.5,876.6 951.5,867.3 959.5,869.1 967.5,860.3 975.5,858.4 983.5,862.8 991.5,864.2 999.5,864.7 1007.5,870.0 1015.5,863.0 1023.5,866.3 1031.5,866.5 1039.5,868.6 1047.5,871.1 1055.5,858.9 1063.5,862.6 1071.5,865.6 1079.5,864.2 1087.5,863.5 1095.5,868.3 1103.5,853.5 1111.5,850.4 1119.5,858.4 1127.5,856.9 1135.5,852.0 1143.5,844.7 1151.5,834.2 1159.5,842.8 1167.5,853.9 1175.5,840.8 1183.5,840.1 1191.5,834.4 1199.5,836.1 1207.5,826.0 1215.5,817.3 1223.5,823.8 1231.5,826.1 1239.5,824.1 1247.5,843.2 1255.5,841.3 1263.5,844.3 1271.5,851.2 1279.5,851.2 1287.5,851.5 1295.5,857.5 1303.5,835.1 1311.5,820.3 1319.5,826.4 1327.5,827.5 1335.5,832.0 1343.5,833.2 1351.5,829.7 1359.5,804.4 1367.5,800.9 1375.5,798.1 1383.5,800.7" fill="none" stroke="#1e90ff" stroke-width="1" clip-path="url(#cr)" shape-rendering="crispEdges"/>
<line x1="1295.4" y1="541.6" x2="1390.7" y2="411.0" stroke="#ff0000" stroke-width="3.7" stroke-linecap="round"/>
<polygon points="1396.3,403.3 1393.2,415.3 1385.8,409.9" fill="#ff0000"/>
<line x1="1301.5" y1="665.7" x2="1387.9" y2="629.7" stroke="#ff0000" stroke-width="3.7" stroke-linecap="round"/>
<polygon points="1396.7,626.1 1387.8,634.8 1384.3,626.3" fill="#ff0000"/>
<line x1="1282.1" y1="852.6" x2="1391.2" y2="807.7" stroke="#ff0000" stroke-width="3.7" stroke-linecap="round"/>
<polygon points="1400.0,804.1 1391.1,812.7 1387.6,804.2" fill="#ff0000"/>
<rect x="0" y="21" width="1651" height="1" fill="#000"/>
<rect x="1650" y="21" width="1" height="902" fill="#000"/>
<rect x="0" y="574" width="1651" height="1" fill="#000"/>
<rect x="0" y="576" width="1651" height="1" fill="#000"/>
<rect x="0" y="746" width="1651" height="1" fill="#000"/>
<rect x="0" y="748" width="1651" height="1" fill="#000"/>
<rect x="0" y="922" width="1651" height="1" fill="#000"/>
<rect x="0" y="575" width="1650" height="1" fill="#fff"/>
<rect x="0" y="747" width="1650" height="1" fill="#fff"/>
<polygon points="1395,22 1405,22 1400,27" fill="#b4b4b4"/>
<rect x="1651" y="43" width="2" height="1" fill="#000"/>
<text x="1655.71" y="46.76" font-family="Liberation Sans, sans-serif" font-size="9.44" stroke="#000" stroke-width="0.15" textLength="33.31" lengthAdjust="spacingAndGlyphs" text-rendering="geometricPrecision" fill="#000">1.00690</text>
<rect x="1651" y="76" width="2" height="1" fill="#000"/>
<text x="1655.71" y="79.76" font-family="Liberation Sans, sans-serif" font-size="9.44" stroke="#000" stroke-width="0.15" textLength="33.31" lengthAdjust="spacingAndGlyphs" text-rendering="geometricPrecision" fill="#000">1.00360</text>
<rect x="1651" y="109" width="2" height="1" fill="#000"/>
<text x="1655.71" y="112.76" font-family="Liberation Sans, sans-serif" font-size="9.44" stroke="#000" stroke-width="0.15" textLength="33.31" lengthAdjust="spacingAndGlyphs" text-rendering="geometricPrecision" fill="#000">1.00020</text>
<rect x="1651" y="142" width="2" height="1" fill="#000"/>
<text x="1656.08" y="145.76" font-family="Liberation Sans, sans-serif" font-size="9.44" stroke="#000" stroke-width="0.15" textLength="32.94" lengthAdjust="spacingAndGlyphs" text-rendering="geometricPrecision" fill="#000">0.99690</text>
<rect x="1651" y="175" width="2" height="1" fill="#000"/>
<text x="1656.08" y="178.76" font-family="Liberation Sans, sans-serif" font-size="9.44" stroke="#000" stroke-width="0.15" textLength="32.94" lengthAdjust="spacingAndGlyphs" text-rendering="geometricPrecision" fill="#000">0.99350</text>
<rect x="1651" y="208" width="2" height="1" fill="#000"/>
<text x="1656.08" y="211.76" font-family="Liberation Sans, sans-serif" font-size="9.44" stroke="#000" stroke-width="0.15" textLength="32.94" lengthAdjust="spacingAndGlyphs" text-rendering="geometricPrecision" fill="#000">0.99010</text>
<rect x="1651" y="241" width="2" height="1" fill="#000"/>
<text x="1656.08" y="244.76" font-family="Liberation Sans, sans-serif" font-size="9.44" stroke="#000" stroke-width="0.15" textLength="32.94" lengthAdjust="spacingAndGlyphs" text-rendering="geometricPrecision" fill="#000">0.98680</text>
<rect x="1651" y="274" width="2" height="1" fill="#000"/>
<text x="1656.08" y="277.76" font-family="Liberation Sans, sans-serif" font-size="9.44" stroke="#000" stroke-width="0.15" textLength="32.94" lengthAdjust="spacingAndGlyphs" text-rendering="geometricPrecision" fill="#000">0.98340</text>
<rect x="1651" y="307" width="2" height="1" fill="#000"/>
<text x="1656.08" y="310.76" font-family="Liberation Sans, sans-serif" font-size="9.44" stroke="#000" stroke-width="0.15" textLength="32.94" lengthAdjust="spacingAndGlyphs" text-rendering="geometricPrecision" fill="#000">0.98010</text>
<rect x="1651" y="340" width="2" height="1" fill="#000"/>
<text x="1656.08" y="343.76" font-family="Liberation Sans, sans-serif" font-size="9.44" stroke="#000" stroke-width="0.15" textLength="32.94" lengthAdjust="spacingAndGlyphs" text-rendering="geometricPrecision" fill="#000">0.97670</text>
<rect x="1651" y="373" width="2" height="1" fill="#000"/>
<text x="1656.08" y="376.76" font-family="Liberation Sans, sans-serif" font-size="9.44" stroke="#000" stroke-width="0.15" textLength="32.94" lengthAdjust="spacingAndGlyphs" text-rendering="geometricPrecision" fill="#000">0.97340</text>
<rect x="1651" y="406" width="2" height="1" fill="#000"/>
<rect x="1651" y="439" width="2" height="1" fill="#000"/>
<text x="1656.08" y="442.76" font-family="Liberation Sans, sans-serif" font-size="9.44" stroke="#000" stroke-width="0.15" textLength="32.94" lengthAdjust="spacingAndGlyphs" text-rendering="geometricPrecision" fill="#000">0.96680</text>
<rect x="1651" y="472" width="2" height="1" fill="#000"/>
<text x="1656.08" y="475.76" font-family="Liberation Sans, sans-serif" font-size="9.44" stroke="#000" stroke-width="0.15" textLength="32.94" lengthAdjust="spacingAndGlyphs" text-rendering="geometricPrecision" fill="#000">0.96340</text>
<rect x="1651" y="505" width="2" height="1" fill="#000"/>
<text x="1656.08" y="508.76" font-family="Liberation Sans, sans-serif" font-size="9.44" stroke="#000" stroke-width="0.15" textLength="32.94" lengthAdjust="spacingAndGlyphs" text-rendering="geometricPrecision" fill="#000">0.96000</text>
<rect x="1651" y="538" width="2" height="1" fill="#000"/>
<text x="1656.08" y="541.76" font-family="Liberation Sans, sans-serif" font-size="9.44" stroke="#000" stroke-width="0.15" textLength="32.94" lengthAdjust="spacingAndGlyphs" text-rendering="geometricPrecision" fill="#000">0.95660</text>
<rect x="1651" y="571" width="2" height="1" fill="#000"/>
<text x="1656.08" y="574.76" font-family="Liberation Sans, sans-serif" font-size="9.44" stroke="#000" stroke-width="0.15" textLength="32.94" lengthAdjust="spacingAndGlyphs" text-rendering="geometricPrecision" fill="#000">0.95330</text>
<rect x="1652" y="316" width="41" height="11" fill="#ff0000"/>
<text x="1656.08" y="325.36" font-family="Liberation Sans, sans-serif" font-size="9.44" stroke="#fff" stroke-width="0.15" textLength="33.03" lengthAdjust="spacingAndGlyphs" text-rendering="geometricPrecision" fill="#fff">0.97857</text>
<rect x="1652" y="353" width="41" height="11" fill="#ff0000"/>
<text x="1656.08" y="362.36" font-family="Liberation Sans, sans-serif" font-size="9.44" stroke="#fff" stroke-width="0.15" textLength="33.03" lengthAdjust="spacingAndGlyphs" text-rendering="geometricPrecision" fill="#fff">0.97481</text>
<rect x="1652" y="389" width="41" height="11" fill="#000000"/>
<text x="1656.08" y="398.36" font-family="Liberation Sans, sans-serif" font-size="9.44" stroke="#fff" stroke-width="0.15" textLength="32.98" lengthAdjust="spacingAndGlyphs" text-rendering="geometricPrecision" fill="#fff">0.97123</text>
<rect x="1652" y="400" width="41" height="11" fill="#ffa500"/>
<text x="1656.08" y="409.36" font-family="Liberation Sans, sans-serif" font-size="9.44" stroke="#fff" stroke-width="0.15" textLength="32.84" lengthAdjust="spacingAndGlyphs" text-rendering="geometricPrecision" fill="#fff">0.97004</text>
<rect x="1652" y="432" width="41" height="11" fill="#0000ff"/>
<text x="1656.08" y="441.36" font-family="Liberation Sans, sans-serif" font-size="9.44" stroke="#fff" stroke-width="0.15" textLength="32.94" lengthAdjust="spacingAndGlyphs" text-rendering="geometricPrecision" fill="#fff">0.96680</text>
<rect x="1652" y="464" width="41" height="11" fill="#0000ff"/>
<text x="1656.08" y="473.36" font-family="Liberation Sans, sans-serif" font-size="9.44" stroke="#fff" stroke-width="0.15" textLength="32.98" lengthAdjust="spacingAndGlyphs" text-rendering="geometricPrecision" fill="#fff">0.96355</text>
<rect x="1651" y="578" width="1" height="1" fill="#000"/>
<rect x="1651" y="648" width="1" height="1" fill="#000"/>
<rect x="1651" y="745" width="1" height="1" fill="#000"/>
<rect x="1651" y="750" width="1" height="1" fill="#000"/>
<text x="1653.98" y="586.76" font-family="Liberation Sans, sans-serif" font-size="9.44" stroke="#000" stroke-width="0.15" textLength="37.85" lengthAdjust="spacingAndGlyphs" text-rendering="geometricPrecision" fill="#000">0.005394</text>
<text x="1653.98" y="651.76" font-family="Liberation Sans, sans-serif" font-size="9.44" stroke="#000" stroke-width="0.15" textLength="17.96" lengthAdjust="spacingAndGlyphs" text-rendering="geometricPrecision" fill="#000">0.00</text>
<text x="1653.74" y="742.76" font-family="Liberation Sans, sans-serif" font-size="9.44" stroke="#000" stroke-width="0.15" textLength="41.02" lengthAdjust="spacingAndGlyphs" text-rendering="geometricPrecision" fill="#000">-0.007478</text>
<text x="1653.71" y="758.76" font-family="Liberation Sans, sans-serif" font-size="9.44" stroke="#000" stroke-width="0.15" textLength="15.34" lengthAdjust="spacingAndGlyphs" text-rendering="geometricPrecision" fill="#000">100</text>
<text x="1654.04" y="787.76" font-family="Liberation Sans, sans-serif" font-size="9.44" stroke="#000" stroke-width="0.15" textLength="9.99" lengthAdjust="spacingAndGlyphs" text-rendering="geometricPrecision" fill="#000">80</text>
<text x="1654.04" y="838.76" font-family="Liberation Sans, sans-serif" font-size="9.44" stroke="#000" stroke-width="0.15" textLength="9.99" lengthAdjust="spacingAndGlyphs" text-rendering="geometricPrecision" fill="#000">50</text>
<text x="1653.70" y="899.76" font-family="Liberation Sans, sans-serif" font-size="9.44" stroke="#000" stroke-width="0.15" textLength="10.40" lengthAdjust="spacingAndGlyphs" text-rendering="geometricPrecision" fill="#000">15</text>
<text x="1654.09" y="918.76" font-family="Liberation Sans, sans-serif" font-size="9.44" stroke="#000" stroke-width="0.15" textLength="4.93" lengthAdjust="spacingAndGlyphs" text-rendering="geometricPrecision" fill="#000">0</text>
<rect x="1651" y="784" width="1" height="1" fill="#000"/>
<rect x="1651" y="835" width="1" height="1" fill="#000"/>
<rect x="1651" y="896" width="1" height="1" fill="#000"/>
<text x="-10.28" y="934.80" font-family="Liberation Sans, sans-serif" font-size="9.58" stroke="#000" stroke-width="0.15" textLength="51.67" lengthAdjust="spacingAndGlyphs" text-rendering="geometricPrecision" fill="#000">27 Apr 2022</text>
<rect x="55" y="923" width="1" height="3" fill="#000"/>
<text x="53.72" y="934.80" font-family="Liberation Sans, sans-serif" font-size="9.58" stroke="#000" stroke-width="0.15" textLength="54.33" lengthAdjust="spacingAndGlyphs" text-rendering="geometricPrecision" fill="#000">28 Apr 08:00</text>
<rect x="119" y="923" width="1" height="3" fill="#000"/>
<text x="117.72" y="934.80" font-family="Liberation Sans, sans-serif" font-size="9.58" stroke="#000" stroke-width="0.15" textLength="54.33" lengthAdjust="spacingAndGlyphs" text-rendering="geometricPrecision" fill="#000">29 Apr 16:00</text>
<rect x="183" y="923" width="1" height="3" fill="#000"/>
<text x="181.86" y="934.80" font-family="Liberation Sans, sans-serif" font-size="9.58" stroke="#000" stroke-width="0.15" textLength="52.72" lengthAdjust="spacingAndGlyphs" text-rendering="geometricPrecision" fill="#000">3 May 00:00</text>
<rect x="247" y="923" width="1" height="3" fill="#000"/>
<text x="246.01" y="934.80" font-family="Liberation Sans, sans-serif" font-size="9.58" stroke="#000" stroke-width="0.15" textLength="52.72" lengthAdjust="spacingAndGlyphs" text-rendering="geometricPrecision" fill="#000">4 May 08:00</text>
<rect x="311" y="923" width="1" height="3" fill="#000"/>
<text x="309.82" y="934.80" font-family="Liberation Sans, sans-serif" font-size="9.58" stroke="#000" stroke-width="0.15" textLength="52.72" lengthAdjust="spacingAndGlyphs" text-rendering="geometricPrecision" fill="#000">5 May 16:00</text>
<rect x="375" y="923" width="1" height="3" fill="#000"/>
<text x="373.77" y="934.80" font-family="Liberation Sans, sans-serif" font-size="9.58" stroke="#000" stroke-width="0.15" textLength="52.72" lengthAdjust="spacingAndGlyphs" text-rendering="geometricPrecision" fill="#000">9 May 00:00</text>
<rect x="439" y="923" width="1" height="3" fill="#000"/>
<text x="437.48" y="934.80" font-family="Liberation Sans, sans-serif" font-size="9.58" stroke="#000" stroke-width="0.15" textLength="58.05" lengthAdjust="spacingAndGlyphs" text-rendering="geometricPrecision" fill="#000">10 May 08:00</text>
<rect x="503" y="923" width="1" height="3" fill="#000"/>
<text x="501.48" y="934.80" font-family="Liberation Sans, sans-serif" font-size="9.58" stroke="#000" stroke-width="0.15" textLength="57.34" lengthAdjust="spacingAndGlyphs" text-rendering="geometricPrecision" fill="#000">11 May 16:00</text>
<rect x="567" y="923" width="1" height="3" fill="#000"/>
<text x="565.48" y="934.80" font-family="Liberation Sans, sans-serif" font-size="9.58" stroke="#000" stroke-width="0.15" textLength="58.05" lengthAdjust="spacingAndGlyphs" text-rendering="geometricPrecision" fill="#000">13 May 00:00</text>
<rect x="631" y="923" width="1" height="3" fill="#000"/>
<text x="629.48" y="934.80" font-family="Liberation Sans, sans-serif" font-size="9.58" stroke="#000" stroke-width="0.15" textLength="58.05" lengthAdjust="spacingAndGlyphs" text-rendering="geometricPrecision" fill="#000">16 May 08:00</text>
<rect x="695" y="923" width="1" height="3" fill="#000"/>
<text x="693.48" y="934.80" font-family="Liberation Sans, sans-serif" font-size="9.58" stroke="#000" stroke-width="0.15" textLength="58.05" lengthAdjust="spacingAndGlyphs" text-rendering="geometricPrecision" fill="#000">17 May 16:00</text>
<rect x="759" y="923" width="1" height="3" fill="#000"/>
<text x="757.48" y="934.80" font-family="Liberation Sans, sans-serif" font-size="9.58" stroke="#000" stroke-width="0.15" textLength="58.05" lengthAdjust="spacingAndGlyphs" text-rendering="geometricPrecision" fill="#000">19 May 00:00</text>
<rect x="823" y="923" width="1" height="3" fill="#000"/>
<text x="821.72" y="934.80" font-family="Liberation Sans, sans-serif" font-size="9.58" stroke="#000" stroke-width="0.15" textLength="58.05" lengthAdjust="spacingAndGlyphs" text-rendering="geometricPrecision" fill="#000">20 May 08:00</text>
<rect x="887" y="923" width="1" height="3" fill="#000"/>
<text x="885.72" y="934.80" font-family="Liberation Sans, sans-serif" font-size="9.58" stroke="#000" stroke-width="0.15" textLength="58.05" lengthAdjust="spacingAndGlyphs" text-rendering="geometricPrecision" fill="#000">23 May 16:00</text>
<rect x="951" y="923" width="1" height="3" fill="#000"/>
<text x="949.72" y="934.80" font-family="Liberation Sans, sans-serif" font-size="9.58" stroke="#000" stroke-width="0.15" textLength="58.05" lengthAdjust="spacingAndGlyphs" text-rendering="geometricPrecision" fill="#000">25 May 00:00</text>
<rect x="1015" y="923" width="1" height="3" fill="#000"/>
<text x="1013.72" y="934.80" font-family="Liberation Sans, sans-serif" font-size="9.58" stroke="#000" stroke-width="0.15" textLength="58.05" lengthAdjust="spacingAndGlyphs" text-rendering="geometricPrecision" fill="#000">26 May 08:00</text>
<rect x="1079" y="923" width="1" height="3" fill="#000"/>
<text x="1077.72" y="934.80" font-family="Liberation Sans, sans-serif" font-size="9.58" stroke="#000" stroke-width="0.15" textLength="58.05" lengthAdjust="spacingAndGlyphs" text-rendering="geometricPrecision" fill="#000">27 May 16:00</text>
<rect x="1143" y="923" width="1" height="3" fill="#000"/>
<text x="1141.86" y="934.80" font-family="Liberation Sans, sans-serif" font-size="9.58" stroke="#000" stroke-width="0.15" textLength="58.05" lengthAdjust="spacingAndGlyphs" text-rendering="geometricPrecision" fill="#000">31 May 00:00</text>
<rect x="1207" y="923" width="1" height="3" fill="#000"/>
<text x="1205.48" y="934.80" font-family="Liberation Sans, sans-serif" font-size="9.58" stroke="#000" stroke-width="0.15" textLength="50.07" lengthAdjust="spacingAndGlyphs" text-rendering="geometricPrecision" fill="#000">1 Jun 08:00</text>
<rect x="1271" y="923" width="1" height="3" fill="#000"/>
<text x="1269.72" y="934.80" font-family="Liberation Sans, sans-serif" font-size="9.58" stroke="#000" stroke-width="0.15" textLength="50.07" lengthAdjust="spacingAndGlyphs" text-rendering="geometricPrecision" fill="#000">2 Jun 16:00</text>
<rect x="1335" y="923" width="1" height="3" fill="#000"/>
<text x="1333.72" y="934.80" font-family="Liberation Sans, sans-serif" font-size="9.58" stroke="#000" stroke-width="0.15" textLength="50.07" lengthAdjust="spacingAndGlyphs" text-rendering="geometricPrecision" fill="#000">6 Jun 00:00</text>
<text xml:space="preserve" x="5.89" y="32.90" font-family="Liberation Sans, sans-serif" font-size="9.33" stroke="#000" stroke-width="0.15" textLength="205.28" lengthAdjust="spacingAndGlyphs" text-rendering="geometricPrecision" fill="#000">USDCHF-,H4  0.97169 0.97169 0.97118 0.97123</text>
<rect x="0" y="31" width="1" height="1" fill="#000"/>
<text x="-4.24" y="588.80" font-family="Liberation Sans, sans-serif" font-size="9.19" stroke="#000" stroke-width="0.15" textLength="147.06" lengthAdjust="spacingAndGlyphs" text-rendering="geometricPrecision" fill="#000">MACD(12,26,9) 0.002376 0.000792</text>
<text x="-5.95" y="760.80" font-family="Liberation Sans, sans-serif" font-size="9.19" stroke="#000" stroke-width="0.15" textLength="68.96" lengthAdjust="spacingAndGlyphs" text-rendering="geometricPrecision" fill="#000">RSI(14) 70.2345</text></svg>

<div class="a" style="left:0;top:0;width:1697px;height:16px;background:#f0f0f0"></div>
<div class="a" style="left:0;top:16px;width:1697px;height:1px;background:#f8f8f8"></div>
<div class="a" style="left:0;top:17px;width:1697px;height:1px;background:#a4a4a4"></div>
<div class="a" style="left:0;top:18px;width:1697px;height:1px;background:#6a6a6a"></div>
<div class="a" style="left:1696px;top:19px;width:1px;height:919px;background:#e3e3e3"></div>
<svg class="a" style="left:0;top:0" width="1697" height="17" viewBox="0 0 1697 17">
<defs>
<linearGradient id="gd" x1="0" y1="0" x2="1" y2="1"><stop offset="0" stop-color="#f6d860"/><stop offset="1" stop-color="#b8860b"/></linearGradient>
<linearGradient id="lens" x1="0" y1="0" x2="0" y2="1"><stop offset="0" stop-color="#e8f4ff"/><stop offset="1" stop-color="#a8d0f4"/></linearGradient>
<g id="axes" stroke="#404040" stroke-width="1" fill="none" shape-rendering="crispEdges"><path d="M2.5,0V13M0,10.5H13.5"/></g>
<g id="axtip" fill="#404040"><path d="M12,8.8l2.6,1.8l-2.6,1.8z"/></g>
<g id="dd" fill="#000"><path d="M0,0h6l-3,3z"/></g>
<g id="grip" fill="#b0b0b0" shape-rendering="crispEdges"><path d="M0,1h3v1h-3zM0,3h3v1h-3zM0,5h3v1h-3zM0,7h3v1h-3zM0,9h3v1h-3zM0,11h3v1h-3zM0,13h3v1h-3z"/></g>
</defs>
<!-- magnifier handle (cut) -->
<path d="M0,8.5L3.5,13" stroke="#c89820" stroke-width="2.2" stroke-linecap="round"/>
<rect x="11" y="0" width="1" height="15" fill="#a8a8a8"/>
<!-- new order -->
<path d="M21.5,0H32.5V10.5H21.5z" fill="#fff" stroke="#8a8a8a" stroke-width="1"/>
<path d="M24,2.5H30M24,5H28" stroke="#909090" stroke-width="1"/>
<path d="M29.8,3.8h3.4v3.8h3.8v3.4h-3.8v3.8h-3.4v-3.8h-3.8v-3.4h3.8z" fill="#2bd42b" stroke="#0c8a0c" stroke-width="0.9"/>
<!-- 新订单 -->
<g stroke="#000" stroke-width="1.1" fill="none">
<path d="M40,2.6H54M43,2.6V8.6M42.6,4.4L40.2,7M43.4,4.4L45.6,6.6M49.2,2.6V8.8M53.4,2.6V8.8"/>
<path d="M54.8,5.2L56,7.4L57.4,5.6M60.4,0V8.4H57.4"/>
<path d="M65.3,0.5H74.6M65.3,2.5H74.6M65.3,4.5H74.6M65.6,0V4.8M74.4,0V4.8M64,6.5H76.2M70,0V9"/>
</g>
<!-- book -->
<path d="M88.5,6.5L96,0H99L104,4.5L97.5,12.5z" fill="url(#gd)" stroke="#a87808" stroke-width="0.8"/>
<path d="M88.5,6.5L97.5,12.5L98,10.8L90,5.4z" fill="#fff4c0" stroke="#a87808" stroke-width="0.5"/>
<!-- cloud -->
<rect x="118" y="0" width="11" height="6" fill="#2f8de8"/><rect x="121" y="0" width="1.4" height="5" fill="#fff"/><rect x="124" y="1.5" width="3" height="1" fill="#fff"/>
<path d="M118.5,12.3a3.2,3.2 0 0 1 0.6,-6.3a4,4 0 0 1 7,-0.6a3.4,3.4 0 0 1 3.4,6.9z" fill="#eef3fa" stroke="#6d8fc0" stroke-width="0.9"/>
<!-- signal -->
<g fill="none" stroke="#5b8bd8" stroke-width="1.1"><path d="M147.5,9.5a6.5,6.5 0 0 1 0,-10"/><path d="M149.6,7.8a4,4 0 0 1 0,-6.6"/><path d="M155.4,-0.5a6.5,6.5 0 0 1 0,10"/><path d="M153.6,1.2a4,4 0 0 1 0,6.6"/></g>
<circle cx="151.8" cy="4.6" r="1.5" fill="#2a6cd8"/><path d="M152,5.5V12.2a5,5 0 0 0 4,-2.2" fill="none" stroke="#3aa83a" stroke-width="1.6"/>
<!-- autotrading -->
<ellipse cx="179" cy="0.8" rx="7" ry="2.6" fill="#5aa8e8"/><path d="M172,3.2H186L181,11.5H176.5z" fill="#f6d23a" stroke="#caa010" stroke-width="0.6"/>
<circle cx="183.6" cy="9" r="4.1" fill="#e02818"/><rect x="182" y="7.4" width="3.2" height="3.2" fill="#fff"/>
<!-- 自动交易 -->
<g stroke="#000" stroke-width="1.1" fill="none">
<path d="M194,0V8.7M202,0V8.7M194,1.4H202M194,4.3H202M194,7.3H202"/>
<path d="M205,2.4H209.7M207.6,2.6L205.2,7.2H209M208.4,5.4L209.6,8M210.2,0H215.5M214.5,0V8.4H212.4M212,0.5Q212,5.5 210,8"/>
<path d="M216.6,0.3H228M218,3.5L226.6,8.6M226,3.2L217,8.6M217.8,2.4L218.8,3.6M226.6,2.2L225.6,3.4"/>
<path d="M230,0.3H237.7M230,2.2H237.7M230,0V2.2M237.7,0V2.2M231,3.8H238.6V7.6Q238.6,8.6 236,8.4M231.6,3.8L228.6,6.4M233.4,4.2L230.4,8.4M236,4.2L233,8.6"/>
</g>
<rect x="247" y="0" width="1" height="17" fill="#b8b8b8"/><rect x="248" y="0" width="1" height="17" fill="#fafafa"/>
<use href="#grip" x="251" y="0"/>
<!-- bar chart -->
<use href="#axes" x="263" y="0"/><use href="#axtip" x="263" y="0"/><path d="M271.5,0V8.2M269,7.5H271.5M271.5,1.5H274" stroke="#18a018" stroke-width="1.2" fill="none"/>
<rect x="285" y="0" width="1" height="15" fill="#c8c8c8"/>
<!-- candles (active) -->
<rect x="287" y="0" width="24" height="16" fill="#f9f9f9"/>
<use href="#axes" x="291" y="0"/><use href="#axtip" x="291" y="0"/><rect x="297.5" y="0" width="4.2" height="6.6" fill="#22b422" stroke="#0c7c0c" stroke-width="0.7"/><rect x="299.1" y="6.6" width="1" height="2.4" fill="#0c7c0c"/>
<!-- line chart -->
<use href="#axes" x="319" y="0"/><use href="#axtip" x="319" y="0"/><path d="M320.5,7.8Q325,1 327,1.2T332,6" stroke="#18a018" stroke-width="1.1" fill="none"/>
<rect x="342" y="0" width="1" height="15" fill="#a8a8a8"/>
<!-- zoom in -->
<path d="M361,6.5L366.5,11.6" stroke="#c8a020" stroke-width="2.4" stroke-linecap="round"/><circle cx="357.2" cy="2.6" r="5.4" fill="url(#lens)" stroke="#5a98d8" stroke-width="1.3"/><path d="M354.2,2.8H360.2M357.2,0V5.8" stroke="#2a6cc8" stroke-width="1.5"/>
<!-- zoom out -->
<path d="M389.3,6.5L394.5,11.6" stroke="#c8a020" stroke-width="2.4" stroke-linecap="round"/><circle cx="385.5" cy="2.6" r="5.4" fill="url(#lens)" stroke="#5a98d8" stroke-width="1.3"/><path d="M382.5,2.8H388.5" stroke="#2a6cc8" stroke-width="1.5"/>
<!-- grid -->
<rect x="407.3" y="0" width="7.6" height="4.6" fill="#4aa828"/><rect x="415.6" y="0" width="7.6" height="4.6" fill="#2858d8"/><rect x="407.3" y="5.4" width="7.6" height="7" fill="#2858d8"/><rect x="415.6" y="5.4" width="7.6" height="7" fill="#4aa828"/>
<rect x="408.6" y="1.5" width="5" height="2.2" fill="#e8f4e0"/><rect x="416.9" y="1.5" width="5" height="2.2" fill="#e0e8fc"/><rect x="408.6" y="8" width="5" height="3" fill="#e0e8fc"/><rect x="416.9" y="8" width="5" height="3" fill="#e8f4e0"/>
<rect x="432" y="0" width="1" height="15" fill="#a8a8a8"/><rect x="437" y="0" width="1" height="15" fill="#c0c0c0"/>
<!-- autoscroll -->
<use href="#axes" x="443" y="0"/><use href="#axtip" x="443" y="0"/><path d="M450.6,1.8L454.4,4.7L450.6,7.6z" fill="#48c848" stroke="#189018" stroke-width="0.8"/>
<rect x="465" y="0" width="1" height="15" fill="#c0c0c0"/>
<!-- chart shift -->
<use href="#axes" x="471" y="0"/><use href="#axtip" x="471" y="0"/><rect x="479" y="0" width="1" height="9" fill="#2060c0"/><path d="M485,4.7H481M483.2,2.6L481,4.7L483.2,6.8" stroke="#e03010" stroke-width="1.1" fill="none"/>
<rect x="494" y="0" width="1" height="15" fill="#a8a8a8"/>
<!-- templates -->
<path d="M506.5,0H514.5V8.5H506.5z" fill="#fff" stroke="#8a8a8a"/><path d="M508,0H512V4H508z" fill="#f4f4f4" stroke="#9a9a9a" stroke-width="0.8"/>
<path d="M512.6,3h3.2v3.6h3.6v3.2h-3.6v3.6h-3.2v-3.6h-3.6v-3.2h3.6z" fill="#2bd42b" stroke="#0c8a0c" stroke-width="0.9"/>
<use href="#dd" x="525.5" y="3.2"/>
<!-- clock -->
<circle cx="549.8" cy="4.2" r="7" fill="#f4f8fc" stroke="#2868c8" stroke-width="2"/><path d="M549.8,0V4.4H553" stroke="#404040" stroke-width="1" fill="none"/>
<use href="#dd" x="564.5" y="3.2"/>
<!-- indicators -->
<rect x="582" y="0" width="14.5" height="11.5" fill="#fff" stroke="#2868c8" stroke-width="1.6"/><path d="M584,4.2L588,3L591,3.6L595,1.8" stroke="#d03020" stroke-width="1" fill="none"/><path d="M584,8.6L587.5,7L590.5,9L595,7" stroke="#209020" stroke-width="1" fill="none"/>
<use href="#dd" x="603.5" y="3.2"/>
<rect x="615" y="0" width="1" height="17" fill="#b8b8b8"/><rect x="616" y="0" width="1" height="17" fill="#fafafa"/>
<use href="#grip" x="619.5" y="0"/>
<!-- cursor (active) -->
<rect x="626" y="0" width="24" height="16" fill="#f9f9f9"/>
<path d="M633.5,0V9.6L636,7.4L638.2,12L639.8,11.2L637.6,6.8H641z" fill="#303030"/>
<!-- crosshair -->
<path d="M665.5,0V12.6M658.5,4.5H673" stroke="#404040" stroke-width="1" fill="none" shape-rendering="crispEdges"/>
<rect x="682" y="0" width="1" height="15" fill="#a8a8a8"/>
<rect x="699" y="0" width="1" height="12" fill="#404040"/>
<rect x="722" y="5" width="13" height="1" fill="#404040"/>
<path d="M749,11.8L763,0" stroke="#404040" stroke-width="1.1"/>
<!-- channel E -->
<path d="M776.5,10.5L787,0.5M780,10.8L790.5,0.8" stroke="#404040" stroke-width="1"/><path d="M777,5.5H789M777,8H789" stroke="#606060" stroke-width="0.8" stroke-dasharray="1,1"/>
<path d="M788.6,9.3V13.3M788.6,9.3H791M788.6,11.3H790.6M788.6,13.3H791" stroke="#202020" stroke-width="0.9" fill="none"/>
<!-- fibo F -->
<path d="M803.5,0.5H819M803.5,3.5H819M803.5,6.5H819M803.5,9.5H813" stroke="#505050" stroke-width="1" stroke-dasharray="1,1" shape-rendering="crispEdges"/>
<path d="M815.6,9.3V13.3M815.6,9.3H818.4M815.6,11.2H818" stroke="#202020" stroke-width="0.9" fill="none"/>
<!-- arrows -->
<path d="M889.6,0.6L893.2,-2L896.4,0.6L893.2,3.4z" fill="#404040"/><path d="M896.4,6.8L899.6,4L902.6,6.8L899.6,9.6z" fill="#404040"/><path d="M892,3L898,7.4" stroke="#404040" stroke-width="1"/>
<use href="#dd" x="909.5" y="3.2"/>
<rect x="921" y="0" width="1" height="17" fill="#b8b8b8"/><rect x="922" y="0" width="1" height="17" fill="#fafafa"/>
<use href="#grip" x="925" y="0"/>
<!-- H4 active -->
<rect x="1072" y="0" width="24" height="16" fill="#f9f9f9"/><rect x="1071" y="0" width="1" height="15" fill="#b0b0b0"/>
<rect x="1181.5" y="0" width="1" height="15" fill="#a8a8a8"/>
<!-- search -->
<path d="M1649.8,5.4L1644.6,9.8" stroke="#2060d0" stroke-width="2.2" stroke-linecap="round" stroke-dasharray="1.2,0.5"/><circle cx="1653" cy="1.6" r="4.3" fill="#f4f8ff" stroke="#2060d0" stroke-width="1.3"/>
<!-- chat -->
<path d="M1670,6.5a5.5,4.6 0 0 1 11,-1.5v4a5.5,4.6 0 0 1 -5.5,3l-2.8,1.6l0.4,-2.2a5.5,4.6 0 0 1 -3.1,-4.9z" fill="#e4e8ee" stroke="#b0b4bc" stroke-width="0.8"/>
<circle cx="1683.6" cy="2.2" r="8.4" fill="#e03c1c"/>
<path d="M1680.6,6.2H1686.6M1683.6,6.2V0" stroke="#fff" stroke-width="1.3"/>
</svg>
<div class="t" style="left:835px;top:-3.5px;font-size:13px;line-height:16px;color:#505050;font-weight:bold">A</div>
<div class="a" style="left:861.5px;top:-1px;width:11px;height:11px;border:1px dotted #606060;box-sizing:border-box"></div>
<div class="t" style="left:863.5px;top:-3.5px;font-size:12px;line-height:16px;color:#404040;font-weight:bold">T</div>
<div class="t" style="left:935.7px;top:-1.8px;font-size:10.6px;line-height:14px;color:#484848;width:14.5px;text-align:center">M1</div>
<div class="t" style="left:963.8px;top:-1.8px;font-size:10.6px;line-height:14px;color:#484848;width:13.9px;text-align:center">M5</div>
<div class="t" style="left:989.9px;top:-1.8px;font-size:10.6px;line-height:14px;color:#484848;width:18.6px;text-align:center">M15</div>
<div class="t" style="left:1017.5px;top:-1.8px;font-size:10.6px;line-height:14px;color:#484848;width:19.4px;text-align:center">M30</div>
<div class="t" style="left:1049.3px;top:-1.8px;font-size:10.6px;line-height:14px;color:#484848;width:12.2px;text-align:center">H1</div>
<div class="t" style="left:1075.7px;top:-1.8px;font-size:10.6px;line-height:14px;color:#484848;width:13.5px;text-align:center">H4</div>
<div class="t" style="left:1105.2px;top:-1.8px;font-size:10.6px;line-height:14px;color:#484848;width:12.3px;text-align:center">D1</div>
<div class="t" style="left:1131.8px;top:-1.8px;font-size:10.6px;line-height:14px;color:#484848;width:15.9px;text-align:center">W1</div>
<div class="t" style="left:1158.9px;top:-1.8px;font-size:10.6px;line-height:14px;color:#484848;width:16.4px;text-align:center">MN</div>

<svg class="a" style="left:0;top:0" width="220" height="100" viewBox="0 0 220 100"><defs><linearGradient id="g1" x1="0" y1="0" x2="0" y2="1"><stop offset="0" stop-color="#fa5252"/><stop offset="1" stop-color="#dc2c2c"/></linearGradient><linearGradient id="g2" x1="0" y1="0" x2="0" y2="1"><stop offset="0" stop-color="#d82a2a"/><stop offset="0.5" stop-color="#c81818"/><stop offset="1" stop-color="#b40606"/></linearGradient><linearGradient id="g3" x1="0" y1="0" x2="0" y2="1"><stop offset="0" stop-color="#f4f4f4"/><stop offset="0.38" stop-color="#ececec"/><stop offset="0.42" stop-color="#dadada"/><stop offset="1" stop-color="#d2d2d2"/></linearGradient></defs><rect x="0" y="41" width="46" height="25" fill="#c41414"/><rect x="0" y="42" width="45" height="24" fill="url(#g1)"/><rect x="0" y="65" width="103" height="33" fill="#a80404"/><rect x="0" y="66" width="102" height="31" fill="url(#g2)"/><rect x="0" y="64" width="42" height="1" fill="#a00808"/><rect x="0" y="65" width="42" height="1" fill="#e86060"/><rect x="161" y="41" width="52" height="25" fill="#c41414"/><rect x="162" y="42" width="50" height="24" fill="url(#g1)"/><rect x="105" y="65" width="108" height="33" fill="#a80404"/><rect x="106" y="66" width="106" height="31" fill="url(#g2)"/><rect x="162" y="65" width="50" height="2" fill="#d62828"/><rect x="165" y="64" width="44" height="1" fill="#a00808"/><rect x="165" y="65" width="44" height="1" fill="#e86060"/><rect x="48.5" y="41.5" width="110" height="21" fill="#fff" stroke="#a8acb6" stroke-width="1"/><rect x="50" y="43" width="18" height="18" fill="url(#g3)"/><rect x="69" y="42" width="1" height="20" fill="#b4b8c0"/><rect x="139" y="43" width="18" height="18" fill="url(#g3)"/><rect x="137" y="42" width="1" height="20" fill="#b4b8c0"/><polygon points="55.8,50 61.2,50 58.5,53.2" fill="#4a5ab8"/><polygon points="145,53.2 150.2,53.2 147.6,50" fill="#4a5ab8"/><text x="5.82" y="57.10" font-family="Liberation Sans, sans-serif" font-size="12.07" textLength="26.22" lengthAdjust="spacingAndGlyphs" text-rendering="geometricPrecision" fill="#fff">SELL</text><text x="173.75" y="56.90" font-family="Liberation Sans, sans-serif" font-size="11.80" textLength="24.40" lengthAdjust="spacingAndGlyphs" text-rendering="geometricPrecision" fill="#fff">BUY</text><text x="109.67" y="55.68" font-family="Liberation Sans, sans-serif" font-size="11.83" textLength="24.18" lengthAdjust="spacingAndGlyphs" text-rendering="geometricPrecision" fill="#000">1.00</text><text x="13.45" y="92.59" font-family="Liberation Sans, sans-serif" font-size="11.41" font-weight="bold" textLength="24.77" lengthAdjust="spacingAndGlyphs" text-rendering="geometricPrecision" fill="#fff">0.97</text><text x="123.35" y="92.59" font-family="Liberation Sans, sans-serif" font-size="11.41" font-weight="bold" textLength="24.77" lengthAdjust="spacingAndGlyphs" text-rendering="geometricPrecision" fill="#fff">0.97</text><text x="40.79" y="92.47" font-family="Liberation Sans, sans-serif" font-size="33.10" textLength="35.73" lengthAdjust="spacingAndGlyphs" text-rendering="geometricPrecision" fill="#fff">12</text><text x="152.02" y="92.67" font-family="Liberation Sans, sans-serif" font-size="33.38" textLength="35.33" lengthAdjust="spacingAndGlyphs" text-rendering="geometricPrecision" fill="#fff">15</text><text x="81.99" y="76.69" font-family="Liberation Sans, sans-serif" font-size="11.41" font-weight="bold" textLength="5.90" lengthAdjust="spacingAndGlyphs" text-rendering="geometricPrecision" fill="#fff">3</text><text x="191.52" y="76.69" font-family="Liberation Sans, sans-serif" font-size="11.41" font-weight="bold" textLength="7.68" lengthAdjust="spacingAndGlyphs" text-rendering="geometricPrecision" fill="#fff">0</text></svg>
</body></html>
